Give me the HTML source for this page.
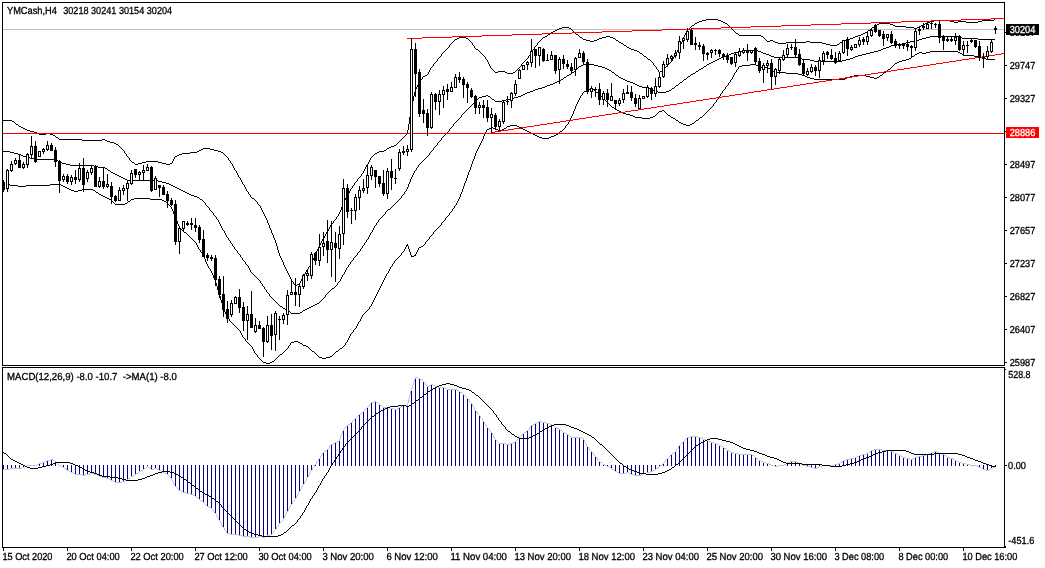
<!DOCTYPE html>
<html lang="en"><head><meta charset="utf-8"><title>YMCash,H4</title>
<style>html,body{margin:0;padding:0;background:#fff}body{width:1045px;height:568px;overflow:hidden}</style>
</head><body>
<svg width="1045" height="568" viewBox="0 0 1045 568" style="display:block">
<rect width="1045" height="568" fill="#fff"/>
<defs><clipPath id="cm"><rect x="3" y="3" width="1001" height="362"/></clipPath><clipPath id="ci"><rect x="3" y="368" width="1001" height="179"/></clipPath><clipPath id="ch"><rect x="1006" y="35" width="40" height="1"/></clipPath><clipPath id="cb"><rect x="3" y="3" width="992" height="362"/></clipPath><clipPath id="cs"><rect x="3" y="368" width="992" height="179"/></clipPath></defs>
<g shape-rendering="crispEdges" clip-path="url(#cm)">
<rect x="3" y="29" width="1001" height="1" fill="#c0c0c0"/>
<path fill="#000" d="M706 19h12v1h-12zM702 20h4v1h-4zM718 20h3v1h-3zM934 20h16v1h-16zM982 20h12v1h-12zM699 21h3v1h-3zM721 21h2v1h-2zM930 21h4v1h-4zM950 21h4v1h-4zM958 21h8v1h-8zM978 21h4v1h-4zM697 22h2v1h-2zM723 22h2v1h-2zM927 22h3v1h-3zM954 22h4v1h-4zM966 22h12v1h-12zM695 23h2v1h-2zM725 23h2v1h-2zM879 23h11v1h-11zM925 23h2v1h-2zM877 24h2v1h-2zM890 24h3v1h-3zM923 24h2v1h-2zM692 25h2v1h-2zM875 25h2v1h-2zM893 25h2v1h-2zM921 25h2v1h-2zM895 26h11v1h-11zM919 26h2v1h-2zM562 27h7v1h-7zM872 27h2v1h-2zM906 27h8v1h-8zM917 27h2v1h-2zM559 28h3v1h-3zM569 28h2v1h-2zM914 28h3v1h-3zM557 29h2v1h-2zM555 30h2v1h-2zM868 30h2v1h-2zM553 31h2v1h-2zM551 32h2v1h-2zM865 32h2v1h-2zM736 33h2v1h-2zM863 33h2v1h-2zM548 34h2v1h-2zM576 34h2v1h-2zM861 34h2v1h-2zM739 35h22v1h-22zM858 35h3v1h-3zM545 36h2v1h-2zM606 36h4v1h-4zM761 36h2v1h-2zM855 36h3v1h-3zM930 36h28v1h-28zM459 37h7v1h-7zM543 37h2v1h-2zM580 37h2v1h-2zM602 37h4v1h-4zM610 37h3v1h-3zM853 37h2v1h-2zM926 37h4v1h-4zM958 37h4v1h-4zM457 38h2v1h-2zM466 38h2v1h-2zM599 38h3v1h-3zM613 38h2v1h-2zM850 38h3v1h-3zM922 38h4v1h-4zM962 38h16v1h-16zM455 39h2v1h-2zM583 39h3v1h-3zM597 39h2v1h-2zM846 39h4v1h-4zM919 39h3v1h-3zM978 39h17v1h-17zM586 40h4v1h-4zM594 40h3v1h-3zM616 40h2v1h-2zM770 40h3v1h-3zM843 40h3v1h-3zM917 40h2v1h-2zM590 41h4v1h-4zM767 41h3v1h-3zM773 41h2v1h-2zM806 41h4v1h-4zM910 41h7v1h-7zM619 42h2v1h-2zM775 42h3v1h-3zM786 42h20v1h-20zM810 42h12v1h-12zM840 42h2v1h-2zM906 42h4v1h-4zM621 43h2v1h-2zM778 43h8v1h-8zM822 43h4v1h-4zM902 43h4v1h-4zM826 44h4v1h-4zM837 44h2v1h-2zM894 44h8v1h-8zM624 45h2v1h-2zM830 45h7v1h-7zM891 45h3v1h-3zM889 46h2v1h-2zM627 47h2v1h-2zM886 47h3v1h-3zM629 48h2v1h-2zM883 48h3v1h-3zM476 49h2v1h-2zM631 49h3v1h-3zM881 49h2v1h-2zM634 50h3v1h-3zM742 50h16v1h-16zM878 50h3v1h-3zM637 51h2v1h-2zM738 51h4v1h-4zM758 51h3v1h-3zM874 51h4v1h-4zM930 51h28v1h-28zM734 52h4v1h-4zM761 52h2v1h-2zM870 52h4v1h-4zM919 52h3v1h-3zM926 52h4v1h-4zM958 52h2v1h-2zM640 53h2v1h-2zM731 53h3v1h-3zM763 53h3v1h-3zM866 53h4v1h-4zM917 53h2v1h-2zM922 53h4v1h-4zM960 53h2v1h-2zM729 54h2v1h-2zM766 54h3v1h-3zM862 54h4v1h-4zM915 54h2v1h-2zM726 55h3v1h-3zM769 55h2v1h-2zM858 55h4v1h-4zM963 55h11v1h-11zM644 56h2v1h-2zM723 56h3v1h-3zM771 56h3v1h-3zM855 56h3v1h-3zM912 56h2v1h-2zM974 56h4v1h-4zM721 57h2v1h-2zM774 57h24v1h-24zM853 57h2v1h-2zM978 57h4v1h-4zM719 58h2v1h-2zM798 58h4v1h-4zM850 58h3v1h-3zM909 58h2v1h-2zM982 58h4v1h-4zM648 59h2v1h-2zM717 59h2v1h-2zM802 59h8v1h-8zM846 59h4v1h-4zM906 59h3v1h-3zM986 59h9v1h-9zM715 60h2v1h-2zM810 60h4v1h-4zM842 60h4v1h-4zM902 60h4v1h-4zM713 61h2v1h-2zM814 61h28v1h-28zM899 61h3v1h-3zM711 62h2v1h-2zM897 62h2v1h-2zM709 63h2v1h-2zM895 63h2v1h-2zM583 64h11v1h-11zM707 64h2v1h-2zM750 64h6v1h-6zM581 65h2v1h-2zM594 65h4v1h-4zM742 65h8v1h-8zM756 65h2v1h-2zM579 66h2v1h-2zM598 66h4v1h-4zM704 66h2v1h-2zM739 66h3v1h-3zM602 67h3v1h-3zM759 67h9v1h-9zM605 68h2v1h-2zM701 68h2v1h-2zM768 68h2v1h-2zM607 69h2v1h-2zM699 69h2v1h-2zM888 69h2v1h-2zM609 70h2v1h-2zM771 70h2v1h-2zM498 71h7v1h-7zM660 71h2v1h-2zM696 71h2v1h-2zM773 71h2v1h-2zM495 72h3v1h-3zM505 72h2v1h-2zM513 72h2v1h-2zM572 72h2v1h-2zM612 72h2v1h-2zM775 72h11v1h-11zM884 72h2v1h-2zM507 73h6v1h-6zM693 73h2v1h-2zM786 73h12v1h-12zM569 74h2v1h-2zM691 74h2v1h-2zM798 74h4v1h-4zM425 75h2v1h-2zM567 75h2v1h-2zM616 75h2v1h-2zM802 75h3v1h-3zM854 75h12v1h-12zM880 75h2v1h-2zM423 76h2v1h-2zM688 76h2v1h-2zM805 76h2v1h-2zM850 76h4v1h-4zM866 76h4v1h-4zM564 77h2v1h-2zM619 77h2v1h-2zM807 77h3v1h-3zM847 77h3v1h-3zM870 77h4v1h-4zM877 77h2v1h-2zM621 78h2v1h-2zM810 78h4v1h-4zM845 78h2v1h-2zM874 78h3v1h-3zM561 79h2v1h-2zM623 79h2v1h-2zM684 79h2v1h-2zM814 79h31v1h-31zM559 80h2v1h-2zM625 80h2v1h-2zM557 81h2v1h-2zM627 81h3v1h-3zM555 82h2v1h-2zM630 82h3v1h-3zM680 82h2v1h-2zM553 83h2v1h-2zM633 83h2v1h-2zM550 84h3v1h-3zM635 84h2v1h-2zM547 85h3v1h-3zM637 85h2v1h-2zM676 85h2v1h-2zM545 86h2v1h-2zM639 86h3v1h-3zM542 87h3v1h-3zM642 87h7v1h-7zM538 88h4v1h-4zM590 88h2v1h-2zM649 88h2v1h-2zM672 88h2v1h-2zM535 89h3v1h-3zM587 89h3v1h-3zM592 89h2v1h-2zM651 89h2v1h-2zM533 90h2v1h-2zM653 90h2v1h-2zM669 90h2v1h-2zM530 91h3v1h-3zM584 91h2v1h-2zM655 91h3v1h-3zM666 91h3v1h-3zM527 92h3v1h-3zM596 92h2v1h-2zM658 92h8v1h-8zM525 93h2v1h-2zM523 94h2v1h-2zM486 95h2v1h-2zM521 95h2v1h-2zM482 96h4v1h-4zM488 96h2v1h-2zM518 96h3v1h-3zM479 97h3v1h-3zM514 97h4v1h-4zM510 98h4v1h-4zM492 99h2v1h-2zM506 99h4v1h-4zM502 100h4v1h-4zM495 101h7v1h-7zM612 107h2v1h-2zM615 109h2v1h-2zM617 110h2v1h-2zM662 110h2v1h-2zM619 111h2v1h-2zM659 111h3v1h-3zM621 112h2v1h-2zM623 113h3v1h-3zM626 114h4v1h-4zM630 115h3v1h-3zM668 115h2v1h-2zM633 116h2v1h-2zM653 116h2v1h-2zM635 117h7v1h-7zM650 117h3v1h-3zM671 117h2v1h-2zM700 117h2v1h-2zM642 118h8v1h-8zM673 118h2v1h-2zM3 120h9v1h-9zM676 120h2v1h-2zM696 120h2v1h-2zM12 121h2v1h-2zM679 122h2v1h-2zM681 123h2v1h-2zM692 123h2v1h-2zM16 124h2v1h-2zM683 124h3v1h-3zM690 124h2v1h-2zM510 125h7v1h-7zM686 125h4v1h-4zM19 126h2v1h-2zM507 126h3v1h-3zM517 126h2v1h-2zM21 127h2v1h-2zM491 127h2v1h-2zM519 127h2v1h-2zM23 128h2v1h-2zM489 128h2v1h-2zM493 128h2v1h-2zM504 128h2v1h-2zM521 128h2v1h-2zM25 129h2v1h-2zM487 129h2v1h-2zM495 129h3v1h-3zM502 129h2v1h-2zM523 129h2v1h-2zM27 130h3v1h-3zM498 130h4v1h-4zM525 130h2v1h-2zM30 131h4v1h-4zM527 131h2v1h-2zM560 131h2v1h-2zM34 132h3v1h-3zM529 132h2v1h-2zM37 133h2v1h-2zM46 133h4v1h-4zM531 133h2v1h-2zM39 134h7v1h-7zM50 134h3v1h-3zM533 134h2v1h-2zM556 134h2v1h-2zM53 135h2v1h-2zM535 135h2v1h-2zM554 135h2v1h-2zM537 136h2v1h-2zM551 136h3v1h-3zM56 137h2v1h-2zM539 137h3v1h-3zM549 137h2v1h-2zM542 138h7v1h-7zM59 139h23v1h-23zM102 139h3v1h-3zM82 140h20v1h-20zM105 140h2v1h-2zM107 141h3v1h-3zM110 142h4v1h-4zM114 143h2v1h-2zM116 144h2v1h-2zM394 145h2v1h-2zM391 146h3v1h-3zM389 147h2v1h-2zM203 148h7v1h-7zM387 148h2v1h-2zM201 149h2v1h-2zM210 149h4v1h-4zM199 150h2v1h-2zM214 150h4v1h-4zM384 150h2v1h-2zM3 151h7v1h-7zM197 151h2v1h-2zM218 151h3v1h-3zM379 151h5v1h-5zM10 152h4v1h-4zM190 152h7v1h-7zM221 152h2v1h-2zM377 152h2v1h-2zM14 153h4v1h-4zM182 153h8v1h-8zM375 153h2v1h-2zM18 154h3v1h-3zM179 154h3v1h-3zM21 155h2v1h-2zM177 155h2v1h-2zM23 156h3v1h-3zM175 156h2v1h-2zM26 157h4v1h-4zM30 158h4v1h-4zM34 159h22v1h-22zM56 160h2v1h-2zM146 161h12v1h-12zM59 162h3v1h-3zM132 162h2v1h-2zM142 162h4v1h-4zM158 162h4v1h-4zM62 163h4v1h-4zM138 163h4v1h-4zM162 163h4v1h-4zM170 163h2v1h-2zM66 164h4v1h-4zM135 164h3v1h-3zM166 164h4v1h-4zM70 165h24v1h-24zM94 166h4v1h-4zM98 167h7v1h-7zM105 168h2v1h-2zM108 170h2v1h-2zM111 172h2v1h-2zM113 173h2v1h-2zM115 174h2v1h-2zM117 175h2v1h-2zM119 176h2v1h-2zM121 177h2v1h-2zM123 178h2v1h-2zM125 179h2v1h-2zM127 180h31v1h-31zM158 181h4v1h-4zM162 182h4v1h-4zM166 183h3v1h-3zM7 184h3v1h-3zM50 184h11v1h-11zM169 184h2v1h-2zM10 185h8v1h-8zM26 185h24v1h-24zM61 185h2v1h-2zM171 185h2v1h-2zM18 186h8v1h-8zM63 186h2v1h-2zM173 186h2v1h-2zM65 187h2v1h-2zM175 187h2v1h-2zM67 188h2v1h-2zM177 188h2v1h-2zM69 189h2v1h-2zM82 189h11v1h-11zM179 189h2v1h-2zM71 190h3v1h-3zM78 190h4v1h-4zM93 190h2v1h-2zM181 190h2v1h-2zM74 191h4v1h-4zM183 191h2v1h-2zM96 192h2v1h-2zM185 192h2v1h-2zM187 193h2v1h-2zM99 194h2v1h-2zM189 194h2v1h-2zM101 195h2v1h-2zM191 195h3v1h-3zM103 196h2v1h-2zM194 196h3v1h-3zM105 197h2v1h-2zM197 197h2v1h-2zM107 198h2v1h-2zM134 198h16v1h-16zM252 198h2v1h-2zM109 199h2v1h-2zM131 199h3v1h-3zM150 199h12v1h-12zM200 199h2v1h-2zM162 200h2v1h-2zM128 201h2v1h-2zM164 201h2v1h-2zM125 203h2v1h-2zM115 204h10v1h-10zM388 209h2v1h-2zM184 232h2v1h-2zM406 245h2v1h-2zM421 246h2v1h-2zM419 247h2v1h-2zM414 255h2v1h-2zM411 256h3v1h-3zM297 284h2v1h-2zM295 285h2v1h-2zM332 288h2v1h-2zM317 303h2v1h-2zM315 304h2v1h-2zM313 305h2v1h-2zM280 306h2v1h-2zM311 306h2v1h-2zM309 307h2v1h-2zM283 308h2v1h-2zM307 308h2v1h-2zM285 309h2v1h-2zM305 309h2v1h-2zM303 310h2v1h-2zM288 311h2v1h-2zM300 312h2v1h-2zM291 313h9v1h-9zM294 341h4v1h-4zM291 342h3v1h-3zM298 342h2v1h-2zM300 343h2v1h-2zM303 345h3v1h-3zM306 346h2v1h-2zM340 348h2v1h-2zM312 351h2v1h-2zM336 351h2v1h-2zM280 354h2v1h-2zM330 356h2v1h-2zM319 357h3v1h-3zM326 357h4v1h-4zM322 358h4v1h-4zM272 361h2v1h-2zM263 362h3v1h-3zM270 362h2v1h-2zM266 363h4v1h-4zM14 122h1v1h-1zM15 123h1v1h-1zM18 125h1v1h-1zM55 136h1v1h-1zM58 138h1v1h-1zM58 161h1v1h-1zM95 191h1v1h-1zM98 193h1v1h-1zM107 169h1v1h-1zM110 171h1v1h-1zM111 200h1v1h-1zM112 201h1v1h-1zM113 202h1v1h-1zM114 203h1v1h-1zM118 145h1v1h-1zM119 146h1v1h-1zM120 147h1v1h-1zM121 148h1v1h-1zM122 149h1v1h-1zM123 150h1v1h-1zM124 151h1v2h-1zM125 153h1v1h-1zM126 154h1v2h-1zM127 156h1v1h-1zM127 202h1v1h-1zM128 157h1v1h-1zM129 158h1v2h-1zM130 160h1v1h-1zM130 200h1v1h-1zM131 161h1v1h-1zM134 163h1v1h-1zM166 202h1v1h-1zM167 203h1v1h-1zM168 204h1v1h-1zM169 205h1v1h-1zM170 206h1v1h-1zM171 207h1v2h-1zM172 161h1v2h-1zM172 209h1v2h-1zM173 159h1v2h-1zM173 211h1v3h-1zM174 157h1v2h-1zM174 214h1v2h-1zM175 216h1v3h-1zM176 219h1v2h-1zM177 221h1v3h-1zM178 224h1v2h-1zM179 226h1v2h-1zM180 228h1v1h-1zM181 229h1v1h-1zM182 230h1v1h-1zM183 231h1v1h-1zM186 233h1v1h-1zM187 234h1v1h-1zM188 235h1v1h-1zM189 236h1v1h-1zM190 237h1v1h-1zM191 238h1v1h-1zM192 239h1v1h-1zM193 240h1v1h-1zM194 241h1v1h-1zM195 242h1v1h-1zM196 243h1v2h-1zM197 245h1v2h-1zM198 247h1v2h-1zM199 198h1v1h-1zM199 249h1v1h-1zM200 250h1v2h-1zM201 252h1v1h-1zM202 200h1v1h-1zM202 253h1v2h-1zM203 201h1v1h-1zM203 255h1v2h-1zM204 202h1v1h-1zM204 257h1v2h-1zM205 203h1v2h-1zM205 259h1v3h-1zM206 205h1v1h-1zM206 262h1v2h-1zM207 206h1v1h-1zM207 264h1v2h-1zM208 207h1v1h-1zM208 266h1v2h-1zM209 208h1v2h-1zM209 268h1v1h-1zM210 210h1v1h-1zM210 269h1v2h-1zM211 211h1v1h-1zM211 271h1v2h-1zM212 212h1v1h-1zM212 273h1v2h-1zM213 213h1v2h-1zM213 275h1v3h-1zM214 215h1v1h-1zM214 278h1v2h-1zM215 216h1v1h-1zM215 280h1v3h-1zM216 217h1v2h-1zM216 283h1v3h-1zM217 219h1v1h-1zM217 286h1v4h-1zM218 220h1v2h-1zM218 290h1v3h-1zM219 222h1v2h-1zM219 293h1v3h-1zM220 224h1v2h-1zM220 296h1v4h-1zM221 226h1v2h-1zM221 300h1v3h-1zM222 228h1v2h-1zM222 303h1v4h-1zM223 153h1v1h-1zM223 230h1v1h-1zM223 307h1v3h-1zM224 154h1v1h-1zM224 231h1v2h-1zM224 310h1v2h-1zM225 155h1v1h-1zM225 233h1v2h-1zM225 312h1v2h-1zM226 156h1v1h-1zM226 235h1v2h-1zM226 314h1v2h-1zM227 157h1v1h-1zM227 237h1v1h-1zM227 316h1v2h-1zM228 158h1v2h-1zM228 238h1v2h-1zM228 318h1v1h-1zM229 160h1v1h-1zM229 240h1v1h-1zM229 319h1v2h-1zM230 161h1v2h-1zM230 241h1v2h-1zM230 321h1v1h-1zM231 163h1v1h-1zM231 243h1v1h-1zM231 322h1v1h-1zM232 164h1v2h-1zM232 244h1v2h-1zM232 323h1v1h-1zM233 166h1v2h-1zM233 246h1v1h-1zM233 324h1v1h-1zM234 168h1v2h-1zM234 247h1v2h-1zM234 325h1v1h-1zM235 170h1v1h-1zM235 249h1v1h-1zM235 326h1v1h-1zM236 171h1v2h-1zM236 250h1v1h-1zM236 327h1v1h-1zM237 173h1v2h-1zM237 251h1v2h-1zM237 328h1v1h-1zM238 175h1v2h-1zM238 253h1v1h-1zM238 329h1v1h-1zM239 177h1v1h-1zM239 254h1v1h-1zM239 330h1v1h-1zM240 178h1v2h-1zM240 255h1v2h-1zM240 331h1v2h-1zM241 180h1v2h-1zM241 257h1v1h-1zM241 333h1v2h-1zM242 182h1v2h-1zM242 258h1v2h-1zM242 335h1v2h-1zM243 184h1v1h-1zM243 260h1v1h-1zM243 337h1v1h-1zM244 185h1v2h-1zM244 261h1v1h-1zM244 338h1v1h-1zM245 187h1v2h-1zM245 262h1v2h-1zM245 339h1v2h-1zM246 189h1v2h-1zM246 264h1v1h-1zM246 341h1v1h-1zM247 191h1v1h-1zM247 265h1v1h-1zM247 342h1v1h-1zM248 192h1v2h-1zM248 266h1v2h-1zM248 343h1v1h-1zM249 194h1v1h-1zM249 268h1v2h-1zM249 344h1v1h-1zM250 195h1v2h-1zM250 270h1v2h-1zM250 345h1v1h-1zM251 197h1v1h-1zM251 272h1v1h-1zM251 346h1v1h-1zM252 273h1v1h-1zM252 347h1v2h-1zM253 274h1v1h-1zM253 349h1v2h-1zM254 199h1v1h-1zM254 275h1v1h-1zM254 351h1v2h-1zM255 200h1v1h-1zM255 276h1v1h-1zM255 353h1v1h-1zM256 201h1v1h-1zM256 277h1v1h-1zM256 354h1v1h-1zM257 202h1v2h-1zM257 278h1v1h-1zM257 355h1v2h-1zM258 204h1v1h-1zM258 279h1v1h-1zM258 357h1v1h-1zM259 205h1v1h-1zM259 280h1v1h-1zM259 358h1v1h-1zM260 206h1v2h-1zM260 281h1v2h-1zM260 359h1v1h-1zM261 208h1v2h-1zM261 283h1v1h-1zM261 360h1v1h-1zM262 210h1v2h-1zM262 284h1v2h-1zM262 361h1v1h-1zM263 212h1v2h-1zM263 286h1v1h-1zM264 214h1v2h-1zM264 287h1v2h-1zM265 216h1v2h-1zM265 289h1v1h-1zM266 218h1v2h-1zM266 290h1v2h-1zM267 220h1v3h-1zM267 292h1v1h-1zM268 223h1v2h-1zM268 293h1v1h-1zM269 225h1v3h-1zM269 294h1v2h-1zM270 228h1v2h-1zM270 296h1v1h-1zM271 230h1v3h-1zM271 297h1v1h-1zM272 233h1v2h-1zM272 298h1v1h-1zM273 235h1v3h-1zM273 299h1v1h-1zM274 238h1v2h-1zM274 300h1v1h-1zM274 360h1v1h-1zM275 240h1v3h-1zM275 301h1v1h-1zM275 359h1v1h-1zM276 243h1v3h-1zM276 302h1v1h-1zM276 358h1v1h-1zM277 246h1v4h-1zM277 303h1v1h-1zM277 357h1v1h-1zM278 250h1v3h-1zM278 304h1v1h-1zM278 356h1v1h-1zM279 253h1v3h-1zM279 305h1v1h-1zM279 355h1v1h-1zM280 256h1v2h-1zM281 258h1v2h-1zM282 260h1v2h-1zM282 307h1v1h-1zM282 353h1v1h-1zM283 262h1v3h-1zM283 352h1v1h-1zM284 265h1v2h-1zM284 351h1v1h-1zM285 267h1v2h-1zM285 350h1v1h-1zM286 269h1v2h-1zM286 349h1v1h-1zM287 271h1v2h-1zM287 310h1v1h-1zM287 348h1v1h-1zM288 273h1v2h-1zM288 346h1v2h-1zM289 275h1v2h-1zM289 345h1v1h-1zM290 277h1v2h-1zM290 312h1v1h-1zM290 343h1v2h-1zM291 279h1v2h-1zM292 281h1v1h-1zM293 282h1v2h-1zM294 284h1v1h-1zM299 283h1v1h-1zM300 281h1v2h-1zM301 279h1v2h-1zM302 277h1v2h-1zM302 311h1v1h-1zM302 344h1v1h-1zM303 276h1v1h-1zM304 274h1v2h-1zM305 272h1v2h-1zM306 270h1v2h-1zM307 269h1v1h-1zM308 267h1v2h-1zM308 347h1v1h-1zM309 266h1v1h-1zM309 348h1v1h-1zM310 264h1v2h-1zM310 349h1v1h-1zM311 262h1v2h-1zM311 350h1v1h-1zM312 260h1v2h-1zM313 258h1v2h-1zM314 256h1v2h-1zM314 352h1v1h-1zM315 253h1v3h-1zM315 353h1v1h-1zM316 251h1v2h-1zM316 354h1v1h-1zM317 249h1v2h-1zM317 355h1v1h-1zM318 247h1v2h-1zM318 356h1v1h-1zM319 245h1v2h-1zM319 302h1v1h-1zM320 243h1v2h-1zM320 301h1v1h-1zM321 241h1v2h-1zM321 300h1v1h-1zM322 239h1v2h-1zM322 299h1v1h-1zM323 238h1v1h-1zM323 298h1v1h-1zM324 236h1v2h-1zM324 297h1v1h-1zM325 234h1v2h-1zM325 295h1v2h-1zM326 232h1v2h-1zM326 294h1v1h-1zM327 231h1v1h-1zM327 293h1v1h-1zM328 229h1v2h-1zM328 292h1v1h-1zM329 227h1v2h-1zM329 291h1v1h-1zM330 225h1v2h-1zM330 290h1v1h-1zM331 224h1v1h-1zM331 289h1v1h-1zM332 223h1v1h-1zM332 355h1v1h-1zM333 221h1v2h-1zM333 354h1v1h-1zM334 220h1v1h-1zM334 287h1v1h-1zM334 353h1v1h-1zM335 219h1v1h-1zM335 286h1v1h-1zM335 352h1v1h-1zM336 217h1v2h-1zM336 285h1v1h-1zM337 216h1v1h-1zM337 283h1v2h-1zM338 214h1v2h-1zM338 282h1v1h-1zM338 350h1v1h-1zM339 212h1v2h-1zM339 281h1v1h-1zM339 349h1v1h-1zM340 210h1v2h-1zM340 279h1v2h-1zM341 207h1v3h-1zM341 277h1v2h-1zM342 205h1v2h-1zM342 275h1v2h-1zM342 347h1v1h-1zM343 202h1v3h-1zM343 274h1v1h-1zM343 346h1v1h-1zM344 200h1v2h-1zM344 272h1v2h-1zM344 345h1v1h-1zM345 198h1v2h-1zM345 270h1v2h-1zM345 343h1v2h-1zM346 196h1v2h-1zM346 268h1v2h-1zM346 342h1v1h-1zM347 195h1v1h-1zM347 267h1v1h-1zM347 340h1v2h-1zM348 193h1v2h-1zM348 265h1v2h-1zM348 338h1v2h-1zM349 191h1v2h-1zM349 264h1v1h-1zM349 336h1v2h-1zM350 189h1v2h-1zM350 262h1v2h-1zM350 334h1v2h-1zM351 188h1v1h-1zM351 261h1v1h-1zM351 333h1v1h-1zM352 186h1v2h-1zM352 260h1v1h-1zM352 332h1v1h-1zM353 185h1v1h-1zM353 258h1v2h-1zM353 330h1v2h-1zM354 183h1v2h-1zM354 257h1v1h-1zM354 329h1v1h-1zM355 182h1v1h-1zM355 256h1v1h-1zM355 328h1v1h-1zM356 181h1v1h-1zM356 255h1v1h-1zM356 326h1v2h-1zM357 179h1v2h-1zM357 253h1v2h-1zM357 324h1v2h-1zM358 178h1v1h-1zM358 252h1v1h-1zM358 322h1v2h-1zM359 177h1v1h-1zM359 251h1v1h-1zM359 321h1v1h-1zM360 176h1v1h-1zM360 249h1v2h-1zM360 319h1v2h-1zM361 174h1v2h-1zM361 248h1v1h-1zM361 317h1v2h-1zM362 173h1v1h-1zM362 246h1v2h-1zM362 315h1v2h-1zM363 171h1v2h-1zM363 245h1v1h-1zM363 314h1v1h-1zM364 169h1v2h-1zM364 243h1v2h-1zM364 313h1v1h-1zM365 167h1v2h-1zM365 242h1v1h-1zM365 312h1v1h-1zM366 165h1v2h-1zM366 240h1v2h-1zM366 311h1v1h-1zM367 164h1v1h-1zM367 239h1v1h-1zM367 310h1v1h-1zM368 162h1v2h-1zM368 237h1v2h-1zM368 309h1v1h-1zM369 160h1v2h-1zM369 235h1v2h-1zM369 307h1v2h-1zM370 158h1v2h-1zM370 233h1v2h-1zM370 306h1v1h-1zM371 157h1v1h-1zM371 232h1v1h-1zM371 304h1v2h-1zM372 156h1v1h-1zM372 230h1v2h-1zM372 302h1v2h-1zM373 155h1v1h-1zM373 228h1v2h-1zM373 300h1v2h-1zM374 154h1v1h-1zM374 226h1v2h-1zM374 298h1v2h-1zM375 225h1v1h-1zM375 296h1v2h-1zM376 223h1v2h-1zM376 294h1v2h-1zM377 222h1v1h-1zM377 292h1v2h-1zM378 220h1v2h-1zM378 290h1v2h-1zM379 219h1v1h-1zM379 288h1v2h-1zM380 218h1v1h-1zM380 286h1v2h-1zM381 217h1v1h-1zM381 284h1v2h-1zM382 216h1v1h-1zM382 282h1v2h-1zM383 215h1v1h-1zM383 280h1v2h-1zM384 214h1v1h-1zM384 278h1v2h-1zM385 212h1v2h-1zM385 276h1v2h-1zM386 149h1v1h-1zM386 211h1v1h-1zM386 274h1v2h-1zM387 210h1v1h-1zM387 273h1v1h-1zM388 271h1v2h-1zM389 269h1v2h-1zM390 208h1v1h-1zM390 267h1v2h-1zM391 207h1v1h-1zM391 266h1v1h-1zM392 206h1v1h-1zM392 264h1v2h-1zM393 205h1v1h-1zM393 263h1v1h-1zM394 204h1v1h-1zM394 261h1v2h-1zM395 203h1v1h-1zM395 260h1v1h-1zM396 144h1v1h-1zM396 202h1v1h-1zM396 259h1v1h-1zM397 143h1v1h-1zM397 201h1v1h-1zM397 258h1v1h-1zM398 142h1v1h-1zM398 200h1v1h-1zM398 257h1v1h-1zM399 141h1v1h-1zM399 199h1v1h-1zM399 256h1v1h-1zM400 140h1v1h-1zM400 198h1v1h-1zM400 255h1v1h-1zM401 139h1v1h-1zM401 196h1v2h-1zM401 253h1v2h-1zM402 138h1v1h-1zM402 195h1v1h-1zM402 252h1v1h-1zM403 137h1v1h-1zM403 194h1v1h-1zM403 251h1v1h-1zM404 136h1v1h-1zM404 192h1v2h-1zM404 249h1v2h-1zM405 135h1v1h-1zM405 191h1v1h-1zM405 247h1v2h-1zM406 134h1v1h-1zM406 189h1v2h-1zM406 246h1v1h-1zM407 130h1v4h-1zM407 187h1v2h-1zM407 244h1v1h-1zM408 124h1v6h-1zM408 184h1v3h-1zM408 246h1v3h-1zM409 117h1v7h-1zM409 182h1v2h-1zM409 249h1v3h-1zM410 111h1v6h-1zM410 179h1v3h-1zM410 252h1v3h-1zM411 105h1v6h-1zM411 177h1v2h-1zM411 255h1v1h-1zM412 101h1v4h-1zM412 175h1v2h-1zM413 96h1v5h-1zM413 173h1v2h-1zM414 92h1v4h-1zM414 171h1v2h-1zM415 89h1v3h-1zM415 170h1v1h-1zM415 254h1v1h-1zM416 87h1v2h-1zM416 168h1v2h-1zM416 252h1v2h-1zM417 85h1v2h-1zM417 167h1v1h-1zM417 250h1v2h-1zM418 83h1v2h-1zM418 165h1v2h-1zM418 248h1v2h-1zM419 82h1v1h-1zM419 164h1v1h-1zM420 80h1v2h-1zM420 163h1v1h-1zM421 79h1v1h-1zM421 162h1v1h-1zM422 77h1v2h-1zM422 161h1v1h-1zM423 160h1v1h-1zM423 245h1v1h-1zM424 159h1v1h-1zM424 244h1v1h-1zM425 158h1v1h-1zM425 242h1v2h-1zM426 157h1v1h-1zM426 241h1v1h-1zM427 74h1v1h-1zM427 156h1v1h-1zM427 240h1v1h-1zM428 72h1v2h-1zM428 155h1v1h-1zM428 239h1v1h-1zM429 70h1v2h-1zM429 153h1v2h-1zM429 237h1v2h-1zM430 68h1v2h-1zM430 152h1v1h-1zM430 236h1v1h-1zM431 67h1v1h-1zM431 151h1v1h-1zM431 235h1v1h-1zM432 66h1v1h-1zM432 150h1v1h-1zM432 234h1v1h-1zM433 64h1v2h-1zM433 148h1v2h-1zM433 232h1v2h-1zM434 63h1v1h-1zM434 147h1v1h-1zM434 231h1v1h-1zM435 62h1v1h-1zM435 146h1v1h-1zM435 230h1v1h-1zM436 61h1v1h-1zM436 145h1v1h-1zM436 229h1v1h-1zM437 59h1v2h-1zM437 143h1v2h-1zM437 228h1v1h-1zM438 58h1v1h-1zM438 142h1v1h-1zM438 227h1v1h-1zM439 57h1v1h-1zM439 141h1v1h-1zM439 226h1v1h-1zM440 56h1v1h-1zM440 140h1v1h-1zM440 225h1v1h-1zM441 54h1v2h-1zM441 138h1v2h-1zM441 223h1v2h-1zM442 53h1v1h-1zM442 137h1v1h-1zM442 222h1v1h-1zM443 52h1v1h-1zM443 136h1v1h-1zM443 221h1v1h-1zM444 51h1v1h-1zM444 135h1v1h-1zM444 220h1v1h-1zM445 50h1v1h-1zM445 134h1v1h-1zM445 218h1v2h-1zM446 49h1v1h-1zM446 133h1v1h-1zM446 217h1v1h-1zM447 48h1v1h-1zM447 132h1v1h-1zM447 216h1v1h-1zM448 47h1v1h-1zM448 131h1v1h-1zM448 215h1v1h-1zM449 45h1v2h-1zM449 129h1v2h-1zM449 213h1v2h-1zM450 44h1v1h-1zM450 128h1v1h-1zM450 212h1v1h-1zM451 43h1v1h-1zM451 127h1v1h-1zM451 211h1v1h-1zM452 42h1v1h-1zM452 126h1v1h-1zM452 209h1v2h-1zM453 41h1v1h-1zM453 124h1v2h-1zM453 208h1v1h-1zM454 40h1v1h-1zM454 123h1v1h-1zM454 206h1v2h-1zM455 122h1v1h-1zM455 205h1v1h-1zM456 121h1v1h-1zM456 203h1v2h-1zM457 120h1v1h-1zM457 201h1v2h-1zM458 119h1v1h-1zM458 199h1v2h-1zM459 118h1v1h-1zM459 197h1v2h-1zM460 117h1v1h-1zM460 194h1v3h-1zM461 115h1v2h-1zM461 192h1v2h-1zM462 114h1v1h-1zM462 189h1v3h-1zM463 113h1v1h-1zM463 186h1v3h-1zM464 112h1v1h-1zM464 183h1v3h-1zM465 111h1v1h-1zM465 181h1v2h-1zM466 110h1v1h-1zM466 178h1v3h-1zM467 109h1v1h-1zM467 175h1v3h-1zM468 39h1v1h-1zM468 108h1v1h-1zM468 172h1v3h-1zM469 40h1v1h-1zM469 107h1v1h-1zM469 170h1v2h-1zM470 41h1v1h-1zM470 106h1v1h-1zM470 167h1v3h-1zM471 42h1v1h-1zM471 105h1v1h-1zM471 164h1v3h-1zM472 43h1v2h-1zM472 104h1v1h-1zM472 161h1v3h-1zM473 45h1v1h-1zM473 103h1v1h-1zM473 159h1v2h-1zM474 46h1v2h-1zM474 102h1v1h-1zM474 156h1v3h-1zM475 48h1v1h-1zM475 101h1v1h-1zM475 153h1v3h-1zM476 100h1v1h-1zM476 151h1v2h-1zM477 99h1v1h-1zM477 149h1v2h-1zM478 50h1v1h-1zM478 98h1v1h-1zM478 147h1v2h-1zM479 51h1v1h-1zM479 145h1v2h-1zM480 52h1v1h-1zM480 143h1v2h-1zM481 53h1v1h-1zM481 141h1v2h-1zM482 54h1v1h-1zM482 139h1v2h-1zM483 55h1v1h-1zM483 136h1v3h-1zM484 56h1v1h-1zM484 134h1v2h-1zM485 57h1v2h-1zM485 132h1v2h-1zM486 59h1v1h-1zM486 130h1v2h-1zM487 60h1v2h-1zM488 62h1v2h-1zM489 64h1v2h-1zM490 66h1v2h-1zM490 97h1v1h-1zM491 68h1v1h-1zM491 98h1v1h-1zM492 69h1v1h-1zM493 70h1v1h-1zM494 71h1v1h-1zM494 100h1v1h-1zM506 127h1v1h-1zM515 71h1v1h-1zM516 70h1v1h-1zM517 69h1v1h-1zM518 68h1v1h-1zM519 67h1v1h-1zM520 66h1v1h-1zM521 64h1v2h-1zM522 63h1v1h-1zM523 62h1v1h-1zM524 61h1v1h-1zM525 60h1v1h-1zM526 59h1v1h-1zM527 58h1v1h-1zM528 56h1v2h-1zM529 55h1v1h-1zM530 53h1v2h-1zM531 52h1v1h-1zM532 50h1v2h-1zM533 49h1v1h-1zM534 47h1v2h-1zM535 46h1v1h-1zM536 45h1v1h-1zM537 43h1v2h-1zM538 42h1v1h-1zM539 41h1v1h-1zM540 40h1v1h-1zM541 39h1v1h-1zM542 38h1v1h-1zM547 35h1v1h-1zM550 33h1v1h-1zM558 133h1v1h-1zM559 132h1v1h-1zM562 130h1v1h-1zM563 78h1v1h-1zM563 129h1v1h-1zM564 128h1v1h-1zM565 126h1v2h-1zM566 76h1v1h-1zM566 125h1v1h-1zM567 124h1v1h-1zM568 122h1v2h-1zM569 120h1v2h-1zM570 118h1v2h-1zM571 29h1v1h-1zM571 73h1v1h-1zM571 116h1v2h-1zM572 30h1v1h-1zM572 114h1v2h-1zM573 31h1v1h-1zM573 111h1v3h-1zM574 32h1v1h-1zM574 71h1v1h-1zM574 109h1v2h-1zM575 33h1v1h-1zM575 70h1v1h-1zM575 106h1v3h-1zM576 69h1v1h-1zM576 104h1v2h-1zM577 68h1v1h-1zM577 102h1v2h-1zM578 35h1v1h-1zM578 67h1v1h-1zM578 100h1v2h-1zM579 36h1v1h-1zM579 98h1v2h-1zM580 96h1v2h-1zM581 95h1v1h-1zM582 38h1v1h-1zM582 93h1v2h-1zM583 92h1v1h-1zM586 90h1v1h-1zM594 90h1v1h-1zM595 91h1v1h-1zM598 93h1v1h-1zM599 94h1v1h-1zM600 95h1v1h-1zM601 96h1v1h-1zM602 97h1v1h-1zM603 98h1v1h-1zM604 99h1v1h-1zM605 100h1v1h-1zM606 101h1v1h-1zM607 102h1v1h-1zM608 103h1v1h-1zM609 104h1v1h-1zM610 105h1v1h-1zM611 71h1v1h-1zM611 106h1v1h-1zM614 73h1v1h-1zM614 108h1v1h-1zM615 39h1v1h-1zM615 74h1v1h-1zM618 41h1v1h-1zM618 76h1v1h-1zM623 44h1v1h-1zM626 46h1v1h-1zM639 52h1v1h-1zM642 54h1v1h-1zM643 55h1v1h-1zM646 57h1v1h-1zM647 58h1v1h-1zM650 60h1v1h-1zM651 61h1v1h-1zM652 62h1v1h-1zM653 63h1v2h-1zM654 65h1v1h-1zM655 66h1v1h-1zM655 115h1v1h-1zM656 67h1v2h-1zM656 114h1v1h-1zM657 69h1v1h-1zM657 113h1v1h-1zM658 70h1v2h-1zM658 112h1v1h-1zM659 72h1v1h-1zM662 70h1v1h-1zM663 69h1v1h-1zM664 68h1v1h-1zM664 111h1v1h-1zM665 67h1v1h-1zM665 112h1v1h-1zM666 66h1v1h-1zM666 113h1v1h-1zM667 65h1v1h-1zM667 114h1v1h-1zM668 64h1v1h-1zM669 63h1v1h-1zM670 62h1v1h-1zM670 116h1v1h-1zM671 61h1v1h-1zM671 89h1v1h-1zM672 59h1v2h-1zM673 57h1v2h-1zM674 55h1v2h-1zM674 87h1v1h-1zM675 54h1v1h-1zM675 86h1v1h-1zM675 119h1v1h-1zM676 52h1v2h-1zM677 50h1v2h-1zM678 48h1v2h-1zM678 84h1v1h-1zM678 121h1v1h-1zM679 46h1v2h-1zM679 83h1v1h-1zM680 44h1v2h-1zM681 42h1v2h-1zM682 40h1v2h-1zM682 81h1v1h-1zM683 37h1v3h-1zM683 80h1v1h-1zM684 35h1v2h-1zM685 33h1v2h-1zM686 31h1v2h-1zM686 78h1v1h-1zM687 30h1v1h-1zM687 77h1v1h-1zM688 29h1v1h-1zM689 28h1v1h-1zM690 27h1v1h-1zM690 75h1v1h-1zM691 26h1v1h-1zM694 24h1v1h-1zM694 122h1v1h-1zM695 72h1v1h-1zM695 121h1v1h-1zM698 70h1v1h-1zM698 119h1v1h-1zM699 118h1v1h-1zM702 116h1v1h-1zM703 67h1v1h-1zM703 115h1v1h-1zM704 114h1v1h-1zM705 113h1v1h-1zM706 65h1v1h-1zM706 112h1v1h-1zM707 111h1v1h-1zM708 110h1v1h-1zM709 109h1v1h-1zM710 108h1v1h-1zM711 107h1v1h-1zM712 106h1v1h-1zM713 104h1v2h-1zM714 103h1v1h-1zM715 102h1v1h-1zM716 100h1v2h-1zM717 99h1v1h-1zM718 97h1v2h-1zM719 96h1v1h-1zM720 94h1v2h-1zM721 93h1v1h-1zM722 91h1v2h-1zM723 90h1v1h-1zM724 89h1v1h-1zM725 87h1v2h-1zM726 86h1v1h-1zM727 24h1v1h-1zM727 85h1v1h-1zM728 25h1v1h-1zM728 83h1v2h-1zM729 26h1v1h-1zM729 82h1v1h-1zM730 27h1v1h-1zM730 80h1v2h-1zM731 28h1v1h-1zM731 79h1v1h-1zM732 29h1v1h-1zM732 77h1v2h-1zM733 30h1v1h-1zM733 75h1v2h-1zM734 31h1v1h-1zM734 73h1v2h-1zM735 32h1v1h-1zM735 72h1v1h-1zM736 70h1v2h-1zM737 69h1v1h-1zM738 34h1v1h-1zM738 67h1v2h-1zM758 66h1v1h-1zM763 37h1v1h-1zM764 38h1v1h-1zM765 39h1v1h-1zM766 40h1v1h-1zM770 69h1v1h-1zM839 43h1v1h-1zM842 41h1v1h-1zM867 31h1v1h-1zM870 29h1v1h-1zM871 28h1v1h-1zM874 26h1v1h-1zM879 76h1v1h-1zM882 74h1v1h-1zM883 73h1v1h-1zM886 71h1v1h-1zM887 70h1v1h-1zM890 68h1v1h-1zM891 67h1v1h-1zM892 66h1v1h-1zM893 65h1v1h-1zM894 64h1v1h-1zM911 57h1v1h-1zM914 55h1v1h-1zM962 54h1v1h-1zM994 19h1v1h-1z"/>
<rect x="3" y="133" width="1001" height="1" fill="#f00"/>
<path fill="#f00" d="M991 18h13v1h-13zM961 19h30v1h-30zM931 20h30v1h-30zM901 21h30v1h-30zM871 22h30v1h-30zM841 23h30v1h-30zM811 24h30v1h-30zM781 25h30v1h-30zM751 26h30v1h-30zM721 27h30v1h-30zM692 28h29v1h-29zM662 29h30v1h-30zM632 30h30v1h-30zM602 31h30v1h-30zM572 32h30v1h-30zM542 33h30v1h-30zM512 34h30v1h-30zM482 35h30v1h-30zM452 36h30v1h-30zM422 37h30v1h-30zM407 38h15v1h-15zM1001 53h3v1h-3zM995 54h6v1h-6zM988 55h7v1h-7zM982 56h6v1h-6zM975 57h7v1h-7zM969 58h6v1h-6zM962 59h7v1h-7zM956 60h6v1h-6zM949 61h7v1h-7zM943 62h6v1h-6zM936 63h7v1h-7zM930 64h6v1h-6zM923 65h7v1h-7zM917 66h6v1h-6zM910 67h7v1h-7zM904 68h6v1h-6zM897 69h7v1h-7zM891 70h6v1h-6zM884 71h7v1h-7zM878 72h6v1h-6zM871 73h7v1h-7zM865 74h6v1h-6zM858 75h7v1h-7zM852 76h6v1h-6zM845 77h7v1h-7zM839 78h6v1h-6zM832 79h7v1h-7zM826 80h6v1h-6zM819 81h7v1h-7zM813 82h6v1h-6zM806 83h7v1h-7zM800 84h6v1h-6zM793 85h7v1h-7zM787 86h6v1h-6zM780 87h7v1h-7zM774 88h6v1h-6zM767 89h7v1h-7zM761 90h6v1h-6zM754 91h7v1h-7zM748 92h6v1h-6zM742 93h6v1h-6zM735 94h7v1h-7zM729 95h6v1h-6zM722 96h7v1h-7zM716 97h6v1h-6zM709 98h7v1h-7zM703 99h6v1h-6zM696 100h7v1h-7zM690 101h6v1h-6zM683 102h7v1h-7zM677 103h6v1h-6zM670 104h7v1h-7zM664 105h6v1h-6zM657 106h7v1h-7zM651 107h6v1h-6zM644 108h7v1h-7zM638 109h6v1h-6zM631 110h7v1h-7zM625 111h6v1h-6zM618 112h7v1h-7zM612 113h6v1h-6zM605 114h7v1h-7zM599 115h6v1h-6zM592 116h7v1h-7zM586 117h6v1h-6zM579 118h7v1h-7zM573 119h6v1h-6zM566 120h7v1h-7zM560 121h6v1h-6zM553 122h7v1h-7zM547 123h6v1h-6zM540 124h7v1h-7zM534 125h6v1h-6zM527 126h7v1h-7zM521 127h6v1h-6zM514 128h7v1h-7zM508 129h6v1h-6zM501 130h7v1h-7zM495 131h6v1h-6zM492 132h3v1h-3z"/>
<path fill="#000" d="M3 180h1v12h-1zM7 169h1v23h-1zM11 161h1v11h-1zM15 158h1v7h-1zM19 155h1v13h-1zM23 162h1v7h-1zM27 153h1v15h-1zM31 136h1v22h-1zM35 141h1v22h-1zM39 151h1v6h-1zM43 148h1v6h-1zM47 141h1v10h-1zM51 143h1v8h-1zM55 147h1v20h-1zM59 160h1v33h-1zM63 174h1v8h-1zM67 174h1v10h-1zM71 175h1v10h-1zM75 170h1v14h-1zM79 163h1v19h-1zM83 158h1v34h-1zM87 170h1v12h-1zM91 166h1v9h-1zM95 165h1v22h-1zM99 177h1v11h-1zM103 167h1v22h-1zM107 174h1v14h-1zM111 182h1v22h-1zM115 195h1v7h-1zM119 187h1v14h-1zM123 185h1v10h-1zM127 180h1v21h-1zM131 170h1v15h-1zM135 169h1v9h-1zM139 171h1v9h-1zM143 165h1v16h-1zM147 164h1v7h-1zM151 166h1v26h-1zM155 176h1v14h-1zM159 185h1v12h-1zM163 185h1v10h-1zM167 191h1v17h-1zM171 198h1v8h-1zM175 200h1v45h-1zM179 228h1v26h-1zM183 221h1v10h-1zM187 221h1v5h-1zM191 218h1v12h-1zM195 218h1v14h-1zM199 225h1v18h-1zM203 230h1v27h-1zM207 253h1v8h-1zM211 255h1v6h-1zM215 255h1v31h-1zM219 276h1v22h-1zM223 276h1v41h-1zM227 301h1v22h-1zM231 300h1v17h-1zM235 296h1v8h-1zM239 289h1v24h-1zM243 302h1v29h-1zM247 306h1v34h-1zM251 291h1v37h-1zM255 318h1v15h-1zM259 321h1v8h-1zM263 327h1v30h-1zM267 316h1v27h-1zM271 314h1v36h-1zM275 311h1v40h-1zM279 316h1v24h-1zM283 313h1v11h-1zM287 290h1v35h-1zM291 281h1v14h-1zM295 278h1v28h-1zM299 284h1v23h-1zM303 274h1v15h-1zM307 269h1v12h-1zM311 252h1v27h-1zM315 252h1v13h-1zM319 234h1v32h-1zM323 232h1v24h-1zM327 220h1v43h-1zM331 221h1v56h-1zM335 232h1v50h-1zM339 226h1v33h-1zM343 179h1v66h-1zM347 184h1v34h-1zM351 208h1v16h-1zM355 194h1v26h-1zM359 186h1v24h-1zM363 179h1v14h-1zM367 164h1v30h-1zM371 165h1v15h-1zM375 170h1v18h-1zM379 176h1v11h-1zM383 170h1v26h-1zM387 168h1v31h-1zM391 159h1v31h-1zM395 169h1v15h-1zM399 149h1v22h-1zM403 146h1v9h-1zM407 145h1v11h-1zM411 38h1v114h-1zM415 43h1v54h-1zM419 69h1v48h-1zM423 99h1v24h-1zM427 109h1v27h-1zM431 92h1v37h-1zM435 93h1v17h-1zM439 90h1v25h-1zM443 86h1v22h-1zM447 84h1v16h-1zM451 82h1v10h-1zM455 74h1v14h-1zM459 72h1v11h-1zM463 77h1v21h-1zM467 82h1v21h-1zM471 88h1v10h-1zM475 95h1v19h-1zM479 102h1v12h-1zM483 100h1v18h-1zM487 100h1v22h-1zM491 108h1v25h-1zM495 113h1v16h-1zM499 119h1v11h-1zM503 101h1v23h-1zM507 96h1v9h-1zM511 92h1v16h-1zM515 80h1v16h-1zM519 69h1v10h-1zM523 65h1v5h-1zM527 61h1v9h-1zM531 39h1v28h-1zM535 49h1v19h-1zM539 47h1v19h-1zM543 48h1v14h-1zM547 54h1v7h-1zM551 51h1v9h-1zM555 55h1v19h-1zM559 57h1v27h-1zM563 55h1v14h-1zM567 60h1v9h-1zM571 63h1v10h-1zM575 57h1v19h-1zM579 49h1v9h-1zM583 51h1v13h-1zM587 59h1v35h-1zM591 86h1v12h-1zM595 87h1v10h-1zM599 83h1v22h-1zM603 91h1v14h-1zM607 89h1v18h-1zM611 83h1v18h-1zM615 100h1v10h-1zM619 98h1v8h-1zM623 89h1v14h-1zM627 85h1v9h-1zM631 86h1v15h-1zM635 94h1v13h-1zM639 95h1v14h-1zM643 96h1v3h-1zM647 85h1v13h-1zM651 87h1v13h-1zM655 78h1v19h-1zM659 72h1v16h-1zM663 61h1v17h-1zM667 54h1v13h-1zM671 55h1v6h-1zM675 50h1v8h-1zM679 36h1v23h-1zM683 37h1v12h-1zM687 28h1v14h-1zM691 28h1v17h-1zM695 37h1v13h-1zM699 42h1v8h-1zM703 44h1v17h-1zM707 52h1v8h-1zM711 49h1v9h-1zM715 49h1v6h-1zM719 49h1v8h-1zM723 53h1v7h-1zM727 53h1v10h-1zM731 57h1v8h-1zM735 53h1v14h-1zM739 48h1v9h-1zM743 48h1v6h-1zM747 44h1v17h-1zM751 50h1v4h-1zM755 47h1v17h-1zM759 58h1v15h-1zM763 63h1v20h-1zM767 60h1v13h-1zM771 59h1v30h-1zM775 68h1v17h-1zM779 58h1v16h-1zM783 50h1v11h-1zM787 44h1v14h-1zM791 44h1v6h-1zM795 39h1v18h-1zM799 49h1v17h-1zM803 60h1v16h-1zM807 68h1v8h-1zM811 64h1v9h-1zM815 65h1v11h-1zM819 57h1v21h-1zM823 51h1v14h-1zM827 51h1v8h-1zM831 49h1v11h-1zM835 52h1v12h-1zM839 51h1v11h-1zM843 40h1v14h-1zM847 37h1v19h-1zM851 45h1v6h-1zM855 44h1v4h-1zM859 37h1v10h-1zM863 37h1v8h-1zM867 32h1v13h-1zM871 29h1v8h-1zM875 24h1v9h-1zM879 30h1v7h-1zM883 31h1v15h-1zM887 34h1v7h-1zM891 31h1v13h-1zM895 39h1v9h-1zM899 43h1v6h-1zM903 43h1v6h-1zM907 40h1v11h-1zM911 45h1v12h-1zM915 29h1v22h-1zM919 26h1v9h-1zM923 23h1v7h-1zM927 23h1v6h-1zM931 22h1v7h-1zM935 23h1v5h-1zM939 20h1v23h-1zM943 35h1v15h-1zM947 37h1v5h-1zM951 37h1v5h-1zM955 33h1v12h-1zM959 35h1v16h-1zM963 41h1v14h-1zM967 41h1v12h-1zM971 39h1v4h-1zM975 40h1v8h-1zM979 41h1v20h-1zM983 53h1v15h-1zM987 46h1v13h-1zM991 40h1v13h-1zM995 26h1v8h-1z"/>
<path fill="#000" d="M2 182h3v8h-3zM6 170h3v19h-3zM10 164h3v7h-3zM14 160h3v4h-3zM18 160h3v8h-3zM22 164h3v4h-3zM26 154h3v11h-3zM30 146h3v9h-3zM34 146h3v16h-3zM38 151h3v6h-3zM42 149h3v3h-3zM46 145h3v5h-3zM50 145h3v6h-3zM54 150h3v12h-3zM58 161h3v20h-3zM62 176h3v4h-3zM66 176h3v6h-3zM70 177h3v5h-3zM74 177h3v3h-3zM78 168h3v12h-3zM82 168h3v17h-3zM86 172h3v7h-3zM90 168h3v5h-3zM94 166h3v21h-3zM98 181h3v6h-3zM102 181h3v6h-3zM106 184h3v3h-3zM110 186h3v11h-3zM114 196h3v5h-3zM118 190h3v11h-3zM122 188h3v3h-3zM126 183h3v6h-3zM130 173h3v11h-3zM134 169h3v6h-3zM138 172h3v3h-3zM142 170h3v3h-3zM146 167h3v4h-3zM150 167h3v24h-3zM154 178h3v12h-3zM158 185h3v3h-3zM162 187h3v8h-3zM166 194h3v7h-3zM170 200h3v5h-3zM174 204h3v38h-3zM178 228h3v14h-3zM182 221h3v8h-3zM186 223h3v2h-3zM190 223h3v2h-3zM194 225h3v3h-3zM198 227h3v13h-3zM202 239h3v18h-3zM206 255h3v3h-3zM210 257h3v2h-3zM214 258h3v22h-3zM218 279h3v16h-3zM222 294h3v16h-3zM226 309h3v10h-3zM230 303h3v12h-3zM234 297h3v7h-3zM238 297h3v11h-3zM242 307h3v14h-3zM246 314h3v7h-3zM250 314h3v14h-3zM254 325h3v7h-3zM258 325h3v4h-3zM262 328h3v14h-3zM266 325h3v17h-3zM270 325h3v11h-3zM274 313h3v22h-3zM278 319h3v1h-3zM282 315h3v5h-3zM286 295h3v20h-3zM290 292h3v3h-3zM294 292h3v3h-3zM298 286h3v9h-3zM302 275h3v12h-3zM306 273h3v3h-3zM310 254h3v22h-3zM314 253h3v8h-3zM318 247h3v14h-3zM322 243h3v4h-3zM326 241h3v9h-3zM330 242h3v8h-3zM334 243h3v5h-3zM338 234h3v15h-3zM342 188h3v46h-3zM346 188h3v24h-3zM350 210h3v1h-3zM354 197h3v14h-3zM358 190h3v8h-3zM362 188h3v3h-3zM366 175h3v13h-3zM370 167h3v9h-3zM374 170h3v7h-3zM378 176h3v8h-3zM382 183h3v11h-3zM386 171h3v23h-3zM390 171h3v7h-3zM394 178h3v1h-3zM398 152h3v17h-3zM402 151h3v2h-3zM406 149h3v3h-3zM410 49h3v101h-3zM414 49h3v25h-3zM418 72h3v42h-3zM422 110h3v4h-3zM426 113h3v15h-3zM430 94h3v34h-3zM434 94h3v8h-3zM438 94h3v8h-3zM442 90h3v5h-3zM446 89h3v3h-3zM450 87h3v5h-3zM454 77h3v11h-3zM458 77h3v3h-3zM462 79h3v6h-3zM466 84h3v4h-3zM470 90h3v7h-3zM474 96h3v12h-3zM478 105h3v3h-3zM482 105h3v3h-3zM486 107h3v11h-3zM490 114h3v4h-3zM494 115h3v12h-3zM498 121h3v6h-3zM502 102h3v20h-3zM506 101h3v1h-3zM510 93h3v8h-3zM514 84h3v10h-3zM518 70h3v9h-3zM522 65h3v5h-3zM526 62h3v3h-3zM530 51h3v12h-3zM534 49h3v7h-3zM538 47h3v9h-3zM542 49h3v12h-3zM546 60h3v1h-3zM550 55h3v5h-3zM554 55h3v16h-3zM558 59h3v11h-3zM562 59h3v5h-3zM566 64h3v3h-3zM570 67h3v4h-3zM574 58h3v12h-3zM578 53h3v5h-3zM582 53h3v9h-3zM586 62h3v30h-3zM590 88h3v4h-3zM594 89h3v1h-3zM598 89h3v11h-3zM602 93h3v7h-3zM606 93h3v7h-3zM610 96h3v5h-3zM614 100h3v4h-3zM618 100h3v4h-3zM622 93h3v7h-3zM626 92h3v2h-3zM630 92h3v6h-3zM634 98h3v6h-3zM638 98h3v11h-3zM642 96h3v3h-3zM646 87h3v10h-3zM650 88h3v6h-3zM654 86h3v8h-3zM658 77h3v10h-3zM662 64h3v13h-3zM666 58h3v7h-3zM670 56h3v3h-3zM674 53h3v3h-3zM678 41h3v12h-3zM682 38h3v3h-3zM686 31h3v9h-3zM690 30h3v15h-3zM694 43h3v2h-3zM698 45h3v2h-3zM702 46h3v8h-3zM706 53h3v2h-3zM710 50h3v3h-3zM714 50h3v1h-3zM718 50h3v4h-3zM722 54h3v3h-3zM726 55h3v5h-3zM730 57h3v7h-3zM734 54h3v9h-3zM738 51h3v5h-3zM742 50h3v3h-3zM746 51h3v2h-3zM750 50h3v3h-3zM754 48h3v14h-3zM758 61h3v10h-3zM762 65h3v5h-3zM766 63h3v3h-3zM770 63h3v14h-3zM774 69h3v8h-3zM778 59h3v12h-3zM782 55h3v5h-3zM786 48h3v7h-3zM790 47h3v1h-3zM794 47h3v8h-3zM798 54h3v11h-3zM802 63h3v11h-3zM806 71h3v4h-3zM810 67h3v5h-3zM814 67h3v4h-3zM818 60h3v11h-3zM822 53h3v8h-3zM826 52h3v3h-3zM830 55h3v4h-3zM834 58h3v5h-3zM838 53h3v8h-3zM842 40h3v13h-3zM846 40h3v9h-3zM850 47h3v3h-3zM854 44h3v4h-3zM858 40h3v5h-3zM862 39h3v3h-3zM866 36h3v6h-3zM870 30h3v6h-3zM874 25h3v7h-3zM878 30h3v6h-3zM882 34h3v5h-3zM886 34h3v4h-3zM890 34h3v9h-3zM894 41h3v5h-3zM898 44h3v2h-3zM902 44h3v2h-3zM906 44h3v3h-3zM910 46h3v2h-3zM914 31h3v17h-3zM918 29h3v2h-3zM922 26h3v2h-3zM926 24h3v5h-3zM930 23h3v1h-3zM934 24h3v1h-3zM938 24h3v14h-3zM942 36h3v5h-3zM946 39h3v2h-3zM950 39h3v2h-3zM954 37h3v4h-3zM958 36h3v14h-3zM962 45h3v5h-3zM966 45h3v1h-3zM970 40h3v2h-3zM974 40h3v7h-3zM978 46h3v12h-3zM982 57h3v1h-3zM986 51h3v6h-3zM990 42h3v10h-3zM994 28h3v2h-3z"/>
<path fill="#fff" d="M7 171h1v17h-1zM11 165h1v5h-1zM15 161h1v2h-1zM23 165h1v2h-1zM27 155h1v9h-1zM31 147h1v7h-1zM39 152h1v4h-1zM43 150h1v1h-1zM47 146h1v3h-1zM63 177h1v2h-1zM71 178h1v3h-1zM79 169h1v10h-1zM87 173h1v5h-1zM91 169h1v3h-1zM99 182h1v4h-1zM107 185h1v1h-1zM119 191h1v9h-1zM123 189h1v1h-1zM127 184h1v4h-1zM131 174h1v9h-1zM139 173h1v1h-1zM143 171h1v1h-1zM147 168h1v2h-1zM155 179h1v10h-1zM179 229h1v12h-1zM183 222h1v6h-1zM231 304h1v10h-1zM235 298h1v5h-1zM247 315h1v5h-1zM255 326h1v5h-1zM267 326h1v15h-1zM275 314h1v20h-1zM283 316h1v3h-1zM287 296h1v18h-1zM291 293h1v1h-1zM299 287h1v7h-1zM303 276h1v10h-1zM307 274h1v1h-1zM311 255h1v20h-1zM319 248h1v12h-1zM323 244h1v2h-1zM331 243h1v6h-1zM339 235h1v13h-1zM343 189h1v44h-1zM355 198h1v12h-1zM359 191h1v6h-1zM363 189h1v1h-1zM367 176h1v11h-1zM371 168h1v7h-1zM387 172h1v21h-1zM399 153h1v15h-1zM407 150h1v1h-1zM411 50h1v99h-1zM431 95h1v32h-1zM439 95h1v6h-1zM443 91h1v3h-1zM451 88h1v3h-1zM455 78h1v9h-1zM479 106h1v1h-1zM491 115h1v2h-1zM499 122h1v4h-1zM503 103h1v18h-1zM511 94h1v6h-1zM515 85h1v8h-1zM519 71h1v7h-1zM523 66h1v3h-1zM527 63h1v1h-1zM531 52h1v10h-1zM539 48h1v7h-1zM551 56h1v3h-1zM559 60h1v9h-1zM575 59h1v10h-1zM579 54h1v3h-1zM591 89h1v2h-1zM603 94h1v5h-1zM611 97h1v3h-1zM619 101h1v2h-1zM623 94h1v5h-1zM639 99h1v9h-1zM643 97h1v1h-1zM647 88h1v8h-1zM655 87h1v6h-1zM659 78h1v8h-1zM663 65h1v11h-1zM667 59h1v5h-1zM671 57h1v1h-1zM675 54h1v1h-1zM679 42h1v10h-1zM683 39h1v1h-1zM687 32h1v7h-1zM711 51h1v1h-1zM735 55h1v7h-1zM739 52h1v3h-1zM743 51h1v1h-1zM751 51h1v1h-1zM763 66h1v3h-1zM767 64h1v1h-1zM775 70h1v6h-1zM779 60h1v10h-1zM783 56h1v3h-1zM787 49h1v5h-1zM807 72h1v2h-1zM811 68h1v3h-1zM819 61h1v9h-1zM823 54h1v6h-1zM839 54h1v6h-1zM843 41h1v11h-1zM851 48h1v1h-1zM855 45h1v2h-1zM859 41h1v3h-1zM867 37h1v4h-1zM871 31h1v4h-1zM887 35h1v2h-1zM915 32h1v15h-1zM927 25h1v3h-1zM955 38h1v2h-1zM963 46h1v3h-1zM987 52h1v4h-1zM991 43h1v8h-1z"/>
</g>
<g shape-rendering="crispEdges" clip-path="url(#ci)">
<path fill="#00008b" d="M3 465h1v5h-1zM7 465h1v5h-1zM11 465h1v4h-1zM15 465h1v4h-1zM19 465h1v4h-1zM23 465h1v3h-1zM27 465h1v1h-1zM31 465h1v1h-1zM35 465h1v1h-1zM39 463h1v3h-1zM43 462h1v4h-1zM47 460h1v6h-1zM51 459h1v7h-1zM55 461h1v5h-1zM59 465h1v1h-1zM63 465h1v3h-1zM67 465h1v6h-1zM71 465h1v8h-1zM75 465h1v10h-1zM79 465h1v10h-1zM83 465h1v11h-1zM87 465h1v10h-1zM91 465h1v9h-1zM95 465h1v10h-1zM99 465h1v12h-1zM103 465h1v13h-1zM107 465h1v14h-1zM111 465h1v16h-1zM115 465h1v18h-1zM119 465h1v18h-1zM123 465h1v17h-1zM127 465h1v15h-1zM131 465h1v12h-1zM135 465h1v10h-1zM139 465h1v7h-1zM143 465h1v5h-1zM147 465h1v2h-1zM151 465h1v5h-1zM155 465h1v4h-1zM159 465h1v6h-1zM163 465h1v8h-1zM167 465h1v10h-1zM171 465h1v14h-1zM175 465h1v22h-1zM179 465h1v26h-1zM183 465h1v28h-1zM187 465h1v29h-1zM191 465h1v30h-1zM195 465h1v32h-1zM199 465h1v35h-1zM203 465h1v38h-1zM207 465h1v42h-1zM211 465h1v44h-1zM215 465h1v49h-1zM219 465h1v56h-1zM223 465h1v63h-1zM227 465h1v69h-1zM231 465h1v70h-1zM235 465h1v70h-1zM239 465h1v71h-1zM243 465h1v72h-1zM247 465h1v72h-1zM251 465h1v73h-1zM255 465h1v73h-1zM259 465h1v72h-1zM263 465h1v73h-1zM267 465h1v71h-1zM271 465h1v70h-1zM275 465h1v65h-1zM279 465h1v59h-1zM283 465h1v55h-1zM287 465h1v47h-1zM291 465h1v40h-1zM295 465h1v34h-1zM299 465h1v27h-1zM303 465h1v20h-1zM307 465h1v13h-1zM311 465h1v6h-1zM315 464h1v2h-1zM319 458h1v8h-1zM323 452h1v14h-1zM327 449h1v17h-1zM331 444h1v22h-1zM335 442h1v24h-1zM339 440h1v26h-1zM343 429h1v37h-1zM347 425h1v41h-1zM351 422h1v44h-1zM355 418h1v48h-1zM359 414h1v52h-1zM363 411h1v55h-1zM367 407h1v59h-1zM371 402h1v64h-1zM375 401h1v65h-1zM379 404h1v62h-1zM383 407h1v59h-1zM387 407h1v59h-1zM391 408h1v58h-1zM395 409h1v57h-1zM399 407h1v59h-1zM403 405h1v61h-1zM407 405h1v61h-1zM411 389h1v77h-1zM415 377h1v89h-1zM419 378h1v88h-1zM423 381h1v85h-1zM427 386h1v80h-1zM431 384h1v82h-1zM435 386h1v80h-1zM439 387h1v79h-1zM443 387h1v79h-1zM447 389h1v77h-1zM451 389h1v77h-1zM455 389h1v77h-1zM459 391h1v75h-1zM463 394h1v72h-1zM467 398h1v68h-1zM471 403h1v63h-1zM475 410h1v56h-1zM479 415h1v51h-1zM483 421h1v45h-1zM487 427h1v39h-1zM491 432h1v34h-1zM495 439h1v27h-1zM499 443h1v23h-1zM503 443h1v23h-1zM507 444h1v22h-1zM511 443h1v23h-1zM515 441h1v25h-1zM519 437h1v29h-1zM523 433h1v33h-1zM527 430h1v36h-1zM531 425h1v41h-1zM535 423h1v43h-1zM539 421h1v45h-1zM543 422h1v44h-1zM547 423h1v43h-1zM551 424h1v42h-1zM555 427h1v39h-1zM559 429h1v37h-1zM563 432h1v34h-1zM567 434h1v32h-1zM571 437h1v29h-1zM575 437h1v29h-1zM579 437h1v29h-1zM583 438h1v28h-1zM587 446h1v20h-1zM591 451h1v15h-1zM595 456h1v10h-1zM599 461h1v5h-1zM603 464h1v2h-1zM607 465h1v2h-1zM611 465h1v4h-1zM615 465h1v7h-1zM619 465h1v9h-1zM623 465h1v9h-1zM627 465h1v8h-1zM631 465h1v10h-1zM635 465h1v11h-1zM639 465h1v11h-1zM643 465h1v9h-1zM647 465h1v8h-1zM651 465h1v7h-1zM655 465h1v5h-1zM659 465h1v2h-1zM663 463h1v3h-1zM667 458h1v8h-1zM671 454h1v12h-1zM675 451h1v15h-1zM679 445h1v21h-1zM683 441h1v25h-1zM687 437h1v29h-1zM691 436h1v30h-1zM695 436h1v30h-1zM699 437h1v29h-1zM703 439h1v27h-1zM707 440h1v26h-1zM711 442h1v24h-1zM715 443h1v23h-1zM719 445h1v21h-1zM723 447h1v19h-1zM727 450h1v16h-1zM731 452h1v14h-1zM735 453h1v13h-1zM739 454h1v12h-1zM743 454h1v12h-1zM747 454h1v12h-1zM751 454h1v12h-1zM755 457h1v9h-1zM759 460h1v6h-1zM763 462h1v4h-1zM767 463h1v3h-1zM771 465h1v1h-1zM775 465h1v2h-1zM779 465h1v1h-1zM783 465h1v1h-1zM787 462h1v4h-1zM791 461h1v5h-1zM795 461h1v5h-1zM799 463h1v3h-1zM803 465h1v1h-1zM807 465h1v2h-1zM811 465h1v3h-1zM815 465h1v4h-1zM819 465h1v2h-1zM823 465h1v1h-1zM827 465h1v1h-1zM831 465h1v1h-1zM835 464h1v2h-1zM839 463h1v3h-1zM843 460h1v6h-1zM847 459h1v7h-1zM851 458h1v8h-1zM855 457h1v9h-1zM859 455h1v11h-1zM863 454h1v12h-1zM867 453h1v13h-1zM871 450h1v16h-1zM875 449h1v17h-1zM879 449h1v17h-1zM883 450h1v16h-1zM887 450h1v16h-1zM891 451h1v15h-1zM895 453h1v13h-1zM899 455h1v11h-1zM903 457h1v9h-1zM907 458h1v8h-1zM911 459h1v7h-1zM915 457h1v9h-1zM919 456h1v10h-1zM923 455h1v11h-1zM927 454h1v12h-1zM931 452h1v14h-1zM935 451h1v15h-1zM939 453h1v13h-1zM943 454h1v12h-1zM947 457h1v9h-1zM951 458h1v8h-1zM955 460h1v6h-1zM959 462h1v4h-1zM963 463h1v3h-1zM967 464h1v2h-1zM971 465h1v1h-1zM975 465h1v1h-1zM979 465h1v3h-1zM983 465h1v5h-1zM987 465h1v6h-1zM991 465h1v4h-1zM995 465h1v2h-1z"/>
<path fill="#c4c4c4" d="M415 377h3v1h-3zM418 378h2v1h-2zM420 379h2v1h-2zM431 384h2v1h-2zM429 385h2v1h-2zM433 385h2v1h-2zM427 386h2v1h-2zM435 386h3v1h-3zM438 387h7v1h-7zM445 388h2v1h-2zM447 389h10v1h-10zM457 390h2v1h-2zM460 392h2v1h-2zM374 401h2v1h-2zM371 402h3v1h-3zM376 402h2v1h-2zM380 405h2v1h-2zM403 405h5v1h-5zM401 406h2v1h-2zM383 407h7v1h-7zM399 407h2v1h-2zM390 408h4v1h-4zM397 408h2v1h-2zM394 409h3v1h-3zM360 413h2v1h-2zM539 421h3v1h-3zM537 422h2v1h-2zM542 422h4v1h-4zM535 423h2v1h-2zM546 423h4v1h-4zM348 424h2v1h-2zM533 424h2v1h-2zM550 424h2v1h-2zM531 425h2v1h-2zM552 425h2v1h-2zM555 427h2v1h-2zM557 428h2v1h-2zM560 430h2v1h-2zM524 432h2v1h-2zM563 432h2v1h-2zM565 433h2v1h-2zM568 435h2v1h-2zM690 436h8v1h-8zM571 437h11v1h-11zM687 437h3v1h-3zM698 437h3v1h-3zM582 438h2v1h-2zM701 438h2v1h-2zM703 439h3v1h-3zM706 440h3v1h-3zM337 441h2v1h-2zM709 441h2v1h-2zM335 442h2v1h-2zM513 442h2v1h-2zM711 442h3v1h-3zM333 443h2v1h-2zM499 443h7v1h-7zM510 443h3v1h-3zM714 443h3v1h-3zM331 444h2v1h-2zM506 444h4v1h-4zM717 444h2v1h-2zM719 445h2v1h-2zM721 446h2v1h-2zM724 448h2v1h-2zM874 449h8v1h-8zM727 450h2v1h-2zM871 450h3v1h-3zM882 450h8v1h-8zM324 451h2v1h-2zM729 451h2v1h-2zM890 451h3v1h-3zM934 451h3v1h-3zM731 452h3v1h-3zM868 452h2v1h-2zM893 452h2v1h-2zM931 452h3v1h-3zM937 452h2v1h-2zM672 453h2v1h-2zM734 453h4v1h-4zM866 453h2v1h-2zM895 453h2v1h-2zM929 453h2v1h-2zM939 453h3v1h-3zM738 454h14v1h-14zM862 454h4v1h-4zM897 454h2v1h-2zM926 454h3v1h-3zM942 454h2v1h-2zM752 455h2v1h-2zM859 455h3v1h-3zM899 455h2v1h-2zM922 455h4v1h-4zM944 455h2v1h-2zM857 456h2v1h-2zM901 456h2v1h-2zM918 456h4v1h-4zM854 457h3v1h-3zM903 457h3v1h-3zM915 457h3v1h-3zM947 457h3v1h-3zM756 458h2v1h-2zM850 458h4v1h-4zM906 458h4v1h-4zM913 458h2v1h-2zM950 458h3v1h-3zM50 459h3v1h-3zM846 459h4v1h-4zM910 459h3v1h-3zM953 459h2v1h-2zM47 460h3v1h-3zM53 460h2v1h-2zM759 460h2v1h-2zM843 460h3v1h-3zM955 460h2v1h-2zM45 461h2v1h-2zM761 461h2v1h-2zM790 461h7v1h-7zM957 461h2v1h-2zM42 462h3v1h-3zM600 462h2v1h-2zM763 462h3v1h-3zM787 462h3v1h-3zM797 462h2v1h-2zM840 462h2v1h-2zM959 462h3v1h-3zM39 463h3v1h-3zM766 463h3v1h-3zM799 463h2v1h-2zM838 463h2v1h-2zM962 463h4v1h-4zM37 464h2v1h-2zM603 464h2v1h-2zM769 464h2v1h-2zM784 464h2v1h-2zM801 464h2v1h-2zM834 464h4v1h-4zM966 464h4v1h-4zM27 465h10v1h-10zM59 465h2v1h-2zM605 465h2v1h-2zM660 465h2v1h-2zM771 465h3v1h-3zM778 465h6v1h-6zM803 465h3v1h-3zM822 465h12v1h-12zM970 465h7v1h-7zM25 466h2v1h-2zM61 466h2v1h-2zM607 466h2v1h-2zM774 466h4v1h-4zM806 466h4v1h-4zM819 466h3v1h-3zM977 466h2v1h-2zM22 467h3v1h-3zM148 467h2v1h-2zM609 467h2v1h-2zM810 467h4v1h-4zM817 467h2v1h-2zM979 467h2v1h-2zM993 467h2v1h-2zM10 468h12v1h-12zM64 468h2v1h-2zM144 468h2v1h-2zM154 468h3v1h-3zM656 468h2v1h-2zM814 468h3v1h-3zM981 468h2v1h-2zM991 468h2v1h-2zM3 469h7v1h-7zM151 469h3v1h-3zM157 469h2v1h-2zM612 469h2v1h-2zM983 469h3v1h-3zM989 469h2v1h-2zM67 470h2v1h-2zM141 470h2v1h-2zM159 470h2v1h-2zM653 470h2v1h-2zM986 470h3v1h-3zM69 471h2v1h-2zM139 471h2v1h-2zM161 471h2v1h-2zM615 471h2v1h-2zM650 471h3v1h-3zM71 472h2v1h-2zM163 472h2v1h-2zM617 472h2v1h-2zM626 472h3v1h-3zM646 472h4v1h-4zM73 473h2v1h-2zM90 473h4v1h-4zM136 473h2v1h-2zM165 473h2v1h-2zM619 473h7v1h-7zM629 473h2v1h-2zM643 473h3v1h-3zM75 474h7v1h-7zM86 474h4v1h-4zM94 474h3v1h-3zM631 474h3v1h-3zM641 474h2v1h-2zM82 475h4v1h-4zM97 475h2v1h-2zM133 475h2v1h-2zM634 475h7v1h-7zM99 476h3v1h-3zM131 476h2v1h-2zM102 477h4v1h-4zM106 478h3v1h-3zM128 478h2v1h-2zM109 479h2v1h-2zM111 480h2v1h-2zM125 480h2v1h-2zM113 481h2v1h-2zM122 481h3v1h-3zM115 482h7v1h-7zM179 490h2v1h-2zM181 491h2v1h-2zM183 492h3v1h-3zM186 493h4v1h-4zM190 494h3v1h-3zM193 495h2v1h-2zM196 497h2v1h-2zM200 500h2v1h-2zM207 506h2v1h-2zM209 507h2v1h-2zM227 533h3v1h-3zM230 534h8v1h-8zM270 534h2v1h-2zM238 535h4v1h-4zM267 535h3v1h-3zM242 536h8v1h-8zM258 536h4v1h-4zM265 536h2v1h-2zM250 537h8v1h-8zM262 537h3v1h-3zM55 461h1v1h-1zM56 462h1v1h-1zM57 463h1v1h-1zM58 464h1v1h-1zM63 467h1v1h-1zM66 469h1v1h-1zM127 479h1v1h-1zM130 477h1v1h-1zM135 474h1v1h-1zM138 472h1v1h-1zM143 469h1v1h-1zM146 467h1v1h-1zM147 466h1v1h-1zM150 468h1v1h-1zM167 474h1v1h-1zM168 475h1v1h-1zM169 476h1v1h-1zM170 477h1v1h-1zM171 478h1v2h-1zM172 480h1v2h-1zM173 482h1v2h-1zM174 484h1v2h-1zM175 486h1v1h-1zM176 487h1v1h-1zM177 488h1v1h-1zM178 489h1v1h-1zM195 496h1v1h-1zM198 498h1v1h-1zM199 499h1v1h-1zM202 501h1v1h-1zM203 502h1v1h-1zM204 503h1v1h-1zM205 504h1v1h-1zM206 505h1v1h-1zM211 508h1v1h-1zM212 509h1v1h-1zM213 510h1v2h-1zM214 512h1v1h-1zM215 513h1v1h-1zM216 514h1v2h-1zM217 516h1v2h-1zM218 518h1v2h-1zM219 520h1v1h-1zM220 521h1v2h-1zM221 523h1v2h-1zM222 525h1v2h-1zM223 527h1v1h-1zM224 528h1v2h-1zM225 530h1v1h-1zM226 531h1v2h-1zM272 533h1v1h-1zM273 531h1v2h-1zM274 530h1v1h-1zM275 529h1v1h-1zM276 527h1v2h-1zM277 526h1v1h-1zM278 524h1v2h-1zM279 523h1v1h-1zM280 522h1v1h-1zM281 521h1v1h-1zM282 520h1v1h-1zM283 518h1v2h-1zM284 516h1v2h-1zM285 514h1v2h-1zM286 512h1v2h-1zM287 511h1v1h-1zM288 509h1v2h-1zM289 507h1v2h-1zM290 505h1v2h-1zM291 504h1v1h-1zM292 502h1v2h-1zM293 501h1v1h-1zM294 499h1v2h-1zM295 498h1v1h-1zM296 496h1v2h-1zM297 494h1v2h-1zM298 492h1v2h-1zM299 491h1v1h-1zM300 489h1v2h-1zM301 487h1v2h-1zM302 485h1v2h-1zM303 484h1v1h-1zM304 482h1v2h-1zM305 480h1v2h-1zM306 478h1v2h-1zM307 477h1v1h-1zM308 475h1v2h-1zM309 473h1v2h-1zM310 471h1v2h-1zM311 470h1v1h-1zM312 468h1v2h-1zM313 467h1v1h-1zM314 465h1v2h-1zM315 464h1v1h-1zM316 462h1v2h-1zM317 461h1v1h-1zM318 459h1v2h-1zM319 458h1v1h-1zM320 456h1v2h-1zM321 455h1v1h-1zM322 453h1v2h-1zM323 452h1v1h-1zM326 450h1v1h-1zM327 449h1v1h-1zM328 448h1v1h-1zM329 446h1v2h-1zM330 445h1v1h-1zM339 439h1v2h-1zM340 436h1v3h-1zM341 434h1v2h-1zM342 431h1v3h-1zM343 429h1v2h-1zM344 428h1v1h-1zM345 427h1v1h-1zM346 426h1v1h-1zM347 425h1v1h-1zM350 423h1v1h-1zM351 422h1v1h-1zM352 421h1v1h-1zM353 420h1v1h-1zM354 419h1v1h-1zM355 418h1v1h-1zM356 417h1v1h-1zM357 416h1v1h-1zM358 415h1v1h-1zM359 414h1v1h-1zM362 412h1v1h-1zM363 411h1v1h-1zM364 410h1v1h-1zM365 409h1v1h-1zM366 408h1v1h-1zM367 407h1v1h-1zM368 406h1v1h-1zM369 404h1v2h-1zM370 403h1v1h-1zM378 403h1v1h-1zM379 404h1v1h-1zM382 406h1v1h-1zM407 403h1v2h-1zM408 399h1v4h-1zM409 395h1v4h-1zM410 391h1v4h-1zM411 388h1v3h-1zM412 385h1v3h-1zM413 382h1v3h-1zM414 379h1v3h-1zM415 378h1v1h-1zM422 380h1v1h-1zM423 381h1v1h-1zM424 382h1v1h-1zM425 383h1v2h-1zM426 385h1v1h-1zM459 391h1v1h-1zM462 393h1v1h-1zM463 394h1v1h-1zM464 395h1v1h-1zM465 396h1v1h-1zM466 397h1v1h-1zM467 398h1v1h-1zM468 399h1v1h-1zM469 400h1v2h-1zM470 402h1v1h-1zM471 403h1v1h-1zM472 404h1v2h-1zM473 406h1v2h-1zM474 408h1v2h-1zM475 410h1v1h-1zM476 411h1v1h-1zM477 412h1v2h-1zM478 414h1v1h-1zM479 415h1v1h-1zM480 416h1v2h-1zM481 418h1v1h-1zM482 419h1v2h-1zM483 421h1v1h-1zM484 422h1v2h-1zM485 424h1v1h-1zM486 425h1v2h-1zM487 427h1v1h-1zM488 428h1v1h-1zM489 429h1v2h-1zM490 431h1v1h-1zM491 432h1v1h-1zM492 433h1v2h-1zM493 435h1v2h-1zM494 437h1v2h-1zM495 439h1v1h-1zM496 440h1v1h-1zM497 441h1v1h-1zM498 442h1v1h-1zM515 441h1v1h-1zM516 440h1v1h-1zM517 439h1v1h-1zM518 438h1v1h-1zM519 437h1v1h-1zM520 436h1v1h-1zM521 435h1v1h-1zM522 434h1v1h-1zM523 433h1v1h-1zM526 431h1v1h-1zM527 430h1v1h-1zM528 429h1v1h-1zM529 427h1v2h-1zM530 426h1v1h-1zM554 426h1v1h-1zM559 429h1v1h-1zM562 431h1v1h-1zM567 434h1v1h-1zM570 436h1v1h-1zM583 439h1v1h-1zM584 440h1v2h-1zM585 442h1v2h-1zM586 444h1v2h-1zM587 446h1v1h-1zM588 447h1v1h-1zM589 448h1v2h-1zM590 450h1v1h-1zM591 451h1v1h-1zM592 452h1v1h-1zM593 453h1v2h-1zM594 455h1v1h-1zM595 456h1v1h-1zM596 457h1v1h-1zM597 458h1v2h-1zM598 460h1v1h-1zM599 461h1v1h-1zM602 463h1v1h-1zM611 468h1v1h-1zM614 470h1v1h-1zM655 469h1v1h-1zM658 467h1v1h-1zM659 466h1v1h-1zM662 464h1v1h-1zM663 463h1v1h-1zM664 462h1v1h-1zM665 460h1v2h-1zM666 459h1v1h-1zM667 458h1v1h-1zM668 457h1v1h-1zM669 456h1v1h-1zM670 455h1v1h-1zM671 454h1v1h-1zM674 452h1v1h-1zM675 451h1v1h-1zM676 449h1v2h-1zM677 448h1v1h-1zM678 446h1v2h-1zM679 445h1v1h-1zM680 444h1v1h-1zM681 443h1v1h-1zM682 442h1v1h-1zM683 441h1v1h-1zM684 440h1v1h-1zM685 439h1v1h-1zM686 438h1v1h-1zM723 447h1v1h-1zM726 449h1v1h-1zM754 456h1v1h-1zM755 457h1v1h-1zM758 459h1v1h-1zM786 463h1v1h-1zM842 461h1v1h-1zM870 451h1v1h-1zM946 456h1v1h-1z"/>
<path fill="#000" d="M446 383h4v1h-4zM442 384h4v1h-4zM450 384h4v1h-4zM439 385h3v1h-3zM454 385h3v1h-3zM437 386h2v1h-2zM457 386h2v1h-2zM435 387h2v1h-2zM459 387h3v1h-3zM433 388h2v1h-2zM462 388h4v1h-4zM431 389h2v1h-2zM466 389h3v1h-3zM469 390h2v1h-2zM428 391h2v1h-2zM472 392h2v1h-2zM424 394h2v1h-2zM476 395h2v1h-2zM420 397h2v1h-2zM416 400h2v1h-2zM412 403h2v1h-2zM398 405h8v1h-8zM409 405h2v1h-2zM390 406h8v1h-8zM406 406h3v1h-3zM387 407h3v1h-3zM385 408h2v1h-2zM383 409h2v1h-2zM381 410h2v1h-2zM379 411h2v1h-2zM376 413h2v1h-2zM372 416h2v1h-2zM554 424h12v1h-12zM551 425h3v1h-3zM566 425h3v1h-3zM549 426h2v1h-2zM569 426h2v1h-2zM547 427h2v1h-2zM571 427h3v1h-3zM545 428h2v1h-2zM574 428h3v1h-3zM543 429h2v1h-2zM577 429h2v1h-2zM579 430h2v1h-2zM508 431h2v1h-2zM540 431h2v1h-2zM581 431h2v1h-2zM583 432h2v1h-2zM537 433h2v1h-2zM585 433h2v1h-2zM512 434h2v1h-2zM535 434h2v1h-2zM587 434h2v1h-2zM533 435h2v1h-2zM589 435h2v1h-2zM515 436h2v1h-2zM531 436h2v1h-2zM517 437h2v1h-2zM529 437h2v1h-2zM592 437h2v1h-2zM519 438h10v1h-10zM710 438h8v1h-8zM707 439h3v1h-3zM718 439h4v1h-4zM705 440h2v1h-2zM722 440h4v1h-4zM703 441h2v1h-2zM726 441h4v1h-4zM701 442h2v1h-2zM730 442h3v1h-3zM699 443h2v1h-2zM733 443h2v1h-2zM600 444h2v1h-2zM735 444h2v1h-2zM696 445h2v1h-2zM737 445h2v1h-2zM739 446h2v1h-2zM741 447h2v1h-2zM743 448h3v1h-3zM746 449h4v1h-4zM750 450h4v1h-4zM886 450h20v1h-20zM754 451h3v1h-3zM882 451h4v1h-4zM906 451h3v1h-3zM757 452h2v1h-2zM878 452h4v1h-4zM909 452h2v1h-2zM4 453h2v1h-2zM759 453h3v1h-3zM875 453h3v1h-3zM911 453h3v1h-3zM934 453h24v1h-24zM762 454h3v1h-3zM873 454h2v1h-2zM914 454h20v1h-20zM958 454h4v1h-4zM765 455h2v1h-2zM871 455h2v1h-2zM962 455h3v1h-3zM767 456h3v1h-3zM869 456h2v1h-2zM965 456h2v1h-2zM770 457h4v1h-4zM866 457h3v1h-3zM967 457h3v1h-3zM774 458h3v1h-3zM863 458h3v1h-3zM970 458h3v1h-3zM11 459h2v1h-2zM777 459h2v1h-2zM861 459h2v1h-2zM973 459h2v1h-2zM13 460h2v1h-2zM779 460h2v1h-2zM859 460h2v1h-2zM975 460h3v1h-3zM15 461h2v1h-2zM781 461h2v1h-2zM857 461h2v1h-2zM978 461h3v1h-3zM17 462h2v1h-2zM55 462h15v1h-15zM783 462h3v1h-3zM854 462h3v1h-3zM981 462h2v1h-2zM19 463h2v1h-2zM53 463h2v1h-2zM70 463h3v1h-3zM620 463h2v1h-2zM786 463h16v1h-16zM850 463h4v1h-4zM983 463h3v1h-3zM21 464h2v1h-2zM50 464h3v1h-3zM73 464h2v1h-2zM676 464h2v1h-2zM802 464h20v1h-20zM846 464h4v1h-4zM986 464h3v1h-3zM23 465h2v1h-2zM46 465h4v1h-4zM75 465h3v1h-3zM822 465h8v1h-8zM842 465h4v1h-4zM989 465h2v1h-2zM25 466h2v1h-2zM42 466h4v1h-4zM78 466h2v1h-2zM624 466h2v1h-2zM830 466h12v1h-12zM991 466h4v1h-4zM27 467h3v1h-3zM38 467h4v1h-4zM80 467h2v1h-2zM672 467h2v1h-2zM30 468h8v1h-8zM627 468h2v1h-2zM83 469h2v1h-2zM629 469h2v1h-2zM669 469h2v1h-2zM85 470h2v1h-2zM631 470h3v1h-3zM667 470h2v1h-2zM87 471h3v1h-3zM162 471h8v1h-8zM634 471h3v1h-3zM665 471h2v1h-2zM90 472h4v1h-4zM158 472h4v1h-4zM170 472h4v1h-4zM637 472h2v1h-2zM662 472h3v1h-3zM94 473h3v1h-3zM155 473h3v1h-3zM174 473h2v1h-2zM639 473h7v1h-7zM658 473h4v1h-4zM97 474h2v1h-2zM153 474h2v1h-2zM176 474h2v1h-2zM646 474h12v1h-12zM99 475h3v1h-3zM150 475h3v1h-3zM102 476h8v1h-8zM147 476h3v1h-3zM179 476h2v1h-2zM110 477h8v1h-8zM145 477h2v1h-2zM181 477h2v1h-2zM118 478h4v1h-4zM142 478h3v1h-3zM122 479h4v1h-4zM138 479h4v1h-4zM184 479h2v1h-2zM126 480h12v1h-12zM188 482h2v1h-2zM192 485h2v1h-2zM196 488h2v1h-2zM200 491h2v1h-2zM203 493h2v1h-2zM205 494h2v1h-2zM207 495h2v1h-2zM209 496h2v1h-2zM212 498h2v1h-2zM216 501h2v1h-2zM292 525h2v1h-2zM244 529h2v1h-2zM247 531h2v1h-2zM249 532h2v1h-2zM284 532h2v1h-2zM251 533h3v1h-3zM254 534h4v1h-4zM281 534h2v1h-2zM258 535h4v1h-4zM278 535h3v1h-3zM262 536h16v1h-16zM3 452h1v1h-1zM6 454h1v1h-1zM7 455h1v1h-1zM8 456h1v1h-1zM9 457h1v1h-1zM10 458h1v1h-1zM82 468h1v1h-1zM178 475h1v1h-1zM183 478h1v1h-1zM186 480h1v1h-1zM187 481h1v1h-1zM190 483h1v1h-1zM191 484h1v1h-1zM194 486h1v1h-1zM195 487h1v1h-1zM198 489h1v1h-1zM199 490h1v1h-1zM202 492h1v1h-1zM211 497h1v1h-1zM214 499h1v1h-1zM215 500h1v1h-1zM218 502h1v1h-1zM219 503h1v1h-1zM220 504h1v1h-1zM221 505h1v2h-1zM222 507h1v1h-1zM223 508h1v1h-1zM224 509h1v1h-1zM225 510h1v1h-1zM226 511h1v1h-1zM227 512h1v1h-1zM228 513h1v1h-1zM229 514h1v1h-1zM230 515h1v1h-1zM231 516h1v1h-1zM232 517h1v1h-1zM233 518h1v1h-1zM234 519h1v1h-1zM235 520h1v1h-1zM236 521h1v1h-1zM237 522h1v1h-1zM238 523h1v1h-1zM239 524h1v1h-1zM240 525h1v1h-1zM241 526h1v1h-1zM242 527h1v1h-1zM243 528h1v1h-1zM246 530h1v1h-1zM283 533h1v1h-1zM286 531h1v1h-1zM287 530h1v1h-1zM288 529h1v1h-1zM289 528h1v1h-1zM290 527h1v1h-1zM291 526h1v1h-1zM294 524h1v1h-1zM295 523h1v1h-1zM296 522h1v1h-1zM297 520h1v2h-1zM298 519h1v1h-1zM299 518h1v1h-1zM300 516h1v2h-1zM301 515h1v1h-1zM302 513h1v2h-1zM303 512h1v1h-1zM304 510h1v2h-1zM305 508h1v2h-1zM306 506h1v2h-1zM307 505h1v1h-1zM308 503h1v2h-1zM309 501h1v2h-1zM310 499h1v2h-1zM311 498h1v1h-1zM312 496h1v2h-1zM313 495h1v1h-1zM314 493h1v2h-1zM315 492h1v1h-1zM316 490h1v2h-1zM317 488h1v2h-1zM318 486h1v2h-1zM319 485h1v1h-1zM320 483h1v2h-1zM321 481h1v2h-1zM322 479h1v2h-1zM323 478h1v1h-1zM324 476h1v2h-1zM325 475h1v1h-1zM326 473h1v2h-1zM327 472h1v1h-1zM328 470h1v2h-1zM329 468h1v2h-1zM330 466h1v2h-1zM331 465h1v1h-1zM332 463h1v2h-1zM333 462h1v1h-1zM334 460h1v2h-1zM335 459h1v1h-1zM336 457h1v2h-1zM337 456h1v1h-1zM338 454h1v2h-1zM339 453h1v1h-1zM340 451h1v2h-1zM341 450h1v1h-1zM342 448h1v2h-1zM343 447h1v1h-1zM344 446h1v1h-1zM345 444h1v2h-1zM346 443h1v1h-1zM347 442h1v1h-1zM348 441h1v1h-1zM349 440h1v1h-1zM350 439h1v1h-1zM351 438h1v1h-1zM352 437h1v1h-1zM353 436h1v1h-1zM354 435h1v1h-1zM355 434h1v1h-1zM356 433h1v1h-1zM357 432h1v1h-1zM358 431h1v1h-1zM359 430h1v1h-1zM360 429h1v1h-1zM361 427h1v2h-1zM362 426h1v1h-1zM363 425h1v1h-1zM364 424h1v1h-1zM365 423h1v1h-1zM366 422h1v1h-1zM367 421h1v1h-1zM368 420h1v1h-1zM369 419h1v1h-1zM370 418h1v1h-1zM371 417h1v1h-1zM374 415h1v1h-1zM375 414h1v1h-1zM378 412h1v1h-1zM411 404h1v1h-1zM414 402h1v1h-1zM415 401h1v1h-1zM418 399h1v1h-1zM419 398h1v1h-1zM422 396h1v1h-1zM423 395h1v1h-1zM426 393h1v1h-1zM427 392h1v1h-1zM430 390h1v1h-1zM471 391h1v1h-1zM474 393h1v1h-1zM475 394h1v1h-1zM478 396h1v1h-1zM479 397h1v1h-1zM480 398h1v1h-1zM481 399h1v1h-1zM482 400h1v1h-1zM483 401h1v1h-1zM484 402h1v1h-1zM485 403h1v1h-1zM486 404h1v1h-1zM487 405h1v1h-1zM488 406h1v1h-1zM489 407h1v1h-1zM490 408h1v1h-1zM491 409h1v1h-1zM492 410h1v1h-1zM493 411h1v2h-1zM494 413h1v1h-1zM495 414h1v1h-1zM496 415h1v2h-1zM497 417h1v1h-1zM498 418h1v2h-1zM499 420h1v1h-1zM500 421h1v1h-1zM501 422h1v2h-1zM502 424h1v1h-1zM503 425h1v1h-1zM504 426h1v1h-1zM505 427h1v2h-1zM506 429h1v1h-1zM507 430h1v1h-1zM510 432h1v1h-1zM511 433h1v1h-1zM514 435h1v1h-1zM539 432h1v1h-1zM542 430h1v1h-1zM591 436h1v1h-1zM594 438h1v1h-1zM595 439h1v1h-1zM596 440h1v1h-1zM597 441h1v1h-1zM598 442h1v1h-1zM599 443h1v1h-1zM602 445h1v1h-1zM603 446h1v1h-1zM604 447h1v1h-1zM605 448h1v1h-1zM606 449h1v1h-1zM607 450h1v1h-1zM608 451h1v1h-1zM609 452h1v1h-1zM610 453h1v1h-1zM611 454h1v1h-1zM612 455h1v1h-1zM613 456h1v1h-1zM614 457h1v1h-1zM615 458h1v1h-1zM616 459h1v1h-1zM617 460h1v1h-1zM618 461h1v1h-1zM619 462h1v1h-1zM622 464h1v1h-1zM623 465h1v1h-1zM626 467h1v1h-1zM671 468h1v1h-1zM674 466h1v1h-1zM675 465h1v1h-1zM678 463h1v1h-1zM679 462h1v1h-1zM680 461h1v1h-1zM681 460h1v1h-1zM682 459h1v1h-1zM683 458h1v1h-1zM684 457h1v1h-1zM685 456h1v1h-1zM686 455h1v1h-1zM687 454h1v1h-1zM688 453h1v1h-1zM689 452h1v1h-1zM690 451h1v1h-1zM691 450h1v1h-1zM692 449h1v1h-1zM693 448h1v1h-1zM694 447h1v1h-1zM695 446h1v1h-1zM698 444h1v1h-1z"/>
</g>
<g shape-rendering="crispEdges" fill="#000">
<rect x="2" y="2" width="1003" height="1"/>
<rect x="2" y="2" width="1" height="364"/>
<rect x="2" y="365" width="1003" height="1"/>
<rect x="1004" y="2" width="1" height="364"/>
<rect x="2" y="367" width="1003" height="1"/>
<rect x="2" y="367" width="1" height="181"/>
<rect x="1004" y="367" width="1" height="181"/>
<rect x="2" y="547" width="1004" height="1"/>
<rect x="1005" y="32" width="2" height="1"/>
<rect x="1005" y="65" width="2" height="1"/>
<rect x="1005" y="98" width="2" height="1"/>
<rect x="1005" y="131" width="2" height="1"/>
<rect x="1005" y="164" width="2" height="1"/>
<rect x="1005" y="197" width="2" height="1"/>
<rect x="1005" y="230" width="2" height="1"/>
<rect x="1005" y="263" width="2" height="1"/>
<rect x="1005" y="296" width="2" height="1"/>
<rect x="1005" y="329" width="2" height="1"/>
<rect x="1005" y="362" width="2" height="1"/>
<rect x="1005" y="369" width="1" height="1"/>
<rect x="1005" y="465" width="2" height="1"/>
<rect x="1005" y="546" width="1" height="1"/>
<rect x="3" y="548" width="1" height="3"/>
<rect x="67" y="548" width="1" height="3"/>
<rect x="131" y="548" width="1" height="3"/>
<rect x="195" y="548" width="1" height="3"/>
<rect x="259" y="548" width="1" height="3"/>
<rect x="323" y="548" width="1" height="3"/>
<rect x="387" y="548" width="1" height="3"/>
<rect x="451" y="548" width="1" height="3"/>
<rect x="515" y="548" width="1" height="3"/>
<rect x="579" y="548" width="1" height="3"/>
<rect x="643" y="548" width="1" height="3"/>
<rect x="707" y="548" width="1" height="3"/>
<rect x="771" y="548" width="1" height="3"/>
<rect x="835" y="548" width="1" height="3"/>
<rect x="899" y="548" width="1" height="3"/>
<rect x="963" y="548" width="1" height="3"/>
</g>
<g font-family="'Liberation Sans', 'DejaVu Sans', sans-serif" font-size="10.2" fill="#000" stroke="#000" stroke-width="0.3" text-rendering="geometricPrecision">
<text x="7" y="13.8" textLength="49.8" lengthAdjust="spacingAndGlyphs" xml:space="preserve">YMCash,H4</text>
<text x="63.2" y="13.8" textLength="108.9" lengthAdjust="spacingAndGlyphs" xml:space="preserve">30218 30241 30154 30204</text>
<text x="7.1" y="380" textLength="169.8" lengthAdjust="spacingAndGlyphs" xml:space="preserve">MACD(12,26,9) -8.0 -10.7  -&gt;MA(1) -8.0</text>
<g clip-path="url(#ch)">
<text x="1009.7" y="36" textLength="25.7" lengthAdjust="spacingAndGlyphs" xml:space="preserve">30167</text>
</g>
<text x="1009.7" y="69" textLength="25.7" lengthAdjust="spacingAndGlyphs" xml:space="preserve">29747</text>
<text x="1009.7" y="102" textLength="25.7" lengthAdjust="spacingAndGlyphs" xml:space="preserve">29327</text>
<text x="1009.7" y="168" textLength="25.7" lengthAdjust="spacingAndGlyphs" xml:space="preserve">28497</text>
<text x="1009.7" y="201" textLength="25.7" lengthAdjust="spacingAndGlyphs" xml:space="preserve">28077</text>
<text x="1009.7" y="234" textLength="25.7" lengthAdjust="spacingAndGlyphs" xml:space="preserve">27657</text>
<text x="1009.7" y="267" textLength="25.7" lengthAdjust="spacingAndGlyphs" xml:space="preserve">27237</text>
<text x="1009.7" y="300" textLength="25.7" lengthAdjust="spacingAndGlyphs" xml:space="preserve">26827</text>
<text x="1009.7" y="333" textLength="25.7" lengthAdjust="spacingAndGlyphs" xml:space="preserve">26407</text>
<text x="1009.7" y="366" textLength="25.7" lengthAdjust="spacingAndGlyphs" xml:space="preserve">25987</text>
<text x="1008.3" y="378" textLength="22.2" lengthAdjust="spacingAndGlyphs" xml:space="preserve">528.8</text>
<text x="1008" y="469" textLength="18" lengthAdjust="spacingAndGlyphs" xml:space="preserve">0.00</text>
<text x="1008.3" y="544" textLength="26" lengthAdjust="spacingAndGlyphs" xml:space="preserve">-451.6</text>
<text x="2.4" y="560" textLength="50.1" lengthAdjust="spacingAndGlyphs" xml:space="preserve">15 Oct 2020</text>
<text x="66.4" y="560" textLength="53.4" lengthAdjust="spacingAndGlyphs" xml:space="preserve">20 Oct 04:00</text>
<text x="130.4" y="560" textLength="53.4" lengthAdjust="spacingAndGlyphs" xml:space="preserve">22 Oct 20:00</text>
<text x="194.4" y="560" textLength="53.4" lengthAdjust="spacingAndGlyphs" xml:space="preserve">27 Oct 12:00</text>
<text x="258.4" y="560" textLength="53.4" lengthAdjust="spacingAndGlyphs" xml:space="preserve">30 Oct 04:00</text>
<text x="322.4" y="560" textLength="51.5" lengthAdjust="spacingAndGlyphs" xml:space="preserve">3 Nov 20:00</text>
<text x="386.4" y="560" textLength="51.5" lengthAdjust="spacingAndGlyphs" xml:space="preserve">6 Nov 12:00</text>
<text x="450.4" y="560" textLength="56.6" lengthAdjust="spacingAndGlyphs" xml:space="preserve">11 Nov 04:00</text>
<text x="514.4" y="560" textLength="56.6" lengthAdjust="spacingAndGlyphs" xml:space="preserve">13 Nov 20:00</text>
<text x="578.4" y="560" textLength="56.6" lengthAdjust="spacingAndGlyphs" xml:space="preserve">18 Nov 12:00</text>
<text x="642.4" y="560" textLength="56.6" lengthAdjust="spacingAndGlyphs" xml:space="preserve">23 Nov 04:00</text>
<text x="706.4" y="560" textLength="56.6" lengthAdjust="spacingAndGlyphs" xml:space="preserve">25 Nov 20:00</text>
<text x="770.4" y="560" textLength="56.6" lengthAdjust="spacingAndGlyphs" xml:space="preserve">30 Nov 16:00</text>
<text x="834.4" y="560" textLength="49.8" lengthAdjust="spacingAndGlyphs" xml:space="preserve">3 Dec 08:00</text>
<text x="898.4" y="560" textLength="49.8" lengthAdjust="spacingAndGlyphs" xml:space="preserve">8 Dec 00:00</text>
<text x="962.4" y="560" textLength="54.9" lengthAdjust="spacingAndGlyphs" xml:space="preserve">10 Dec 16:00</text>
</g>
<g shape-rendering="crispEdges">
<rect x="1006" y="24" width="33" height="11" fill="#000"/>
<rect x="1006" y="127" width="33" height="11" fill="#f00"/>
</g>
<g font-family="'Liberation Sans', 'DejaVu Sans', sans-serif" font-size="10.2" fill="#fff" stroke="#fff" stroke-width="0.3" text-rendering="geometricPrecision">
<text x="1009.7" y="33" textLength="25.7" lengthAdjust="spacingAndGlyphs" xml:space="preserve">30204</text>
<text x="1009.7" y="136" textLength="25.7" lengthAdjust="spacingAndGlyphs" xml:space="preserve">28886</text>
</g>
</svg>
</body></html>
